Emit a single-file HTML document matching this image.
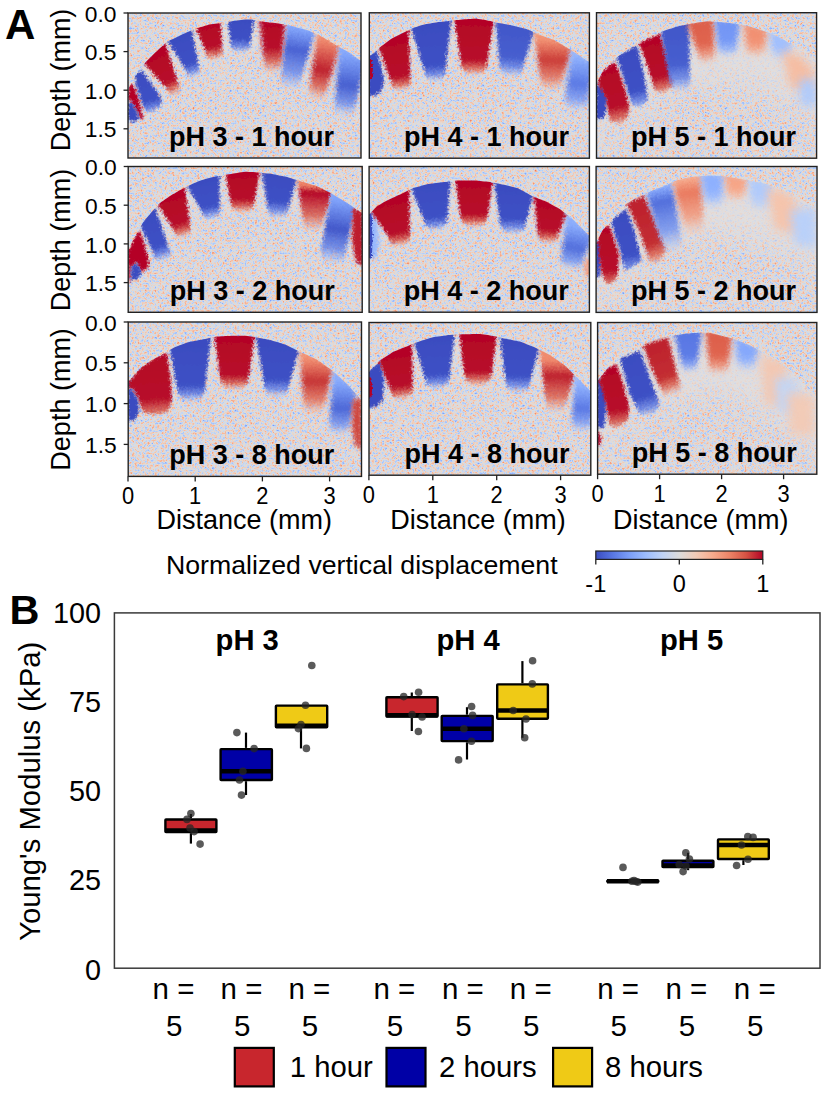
<!DOCTYPE html>
<html><head><meta charset="utf-8"><style>
html,body{margin:0;padding:0;background:#fff;}
body{width:826px;height:1094px;overflow:hidden;font-family:"Liberation Sans",sans-serif;}
svg{display:block;}
</style></head><body>
<svg width="826" height="1094" viewBox="0 0 826 1094">
<defs><clipPath id="arch00"><polygon points="103.0,136.9 105.0,133.1 107.0,129.3 109.0,125.6 111.0,121.8 113.0,118.0 115.0,114.2 117.0,110.4 119.0,106.6 121.0,102.9 123.0,99.1 125.0,95.3 127.0,91.5 129.0,87.7 131.0,84.0 133.0,80.2 135.0,76.4 137.0,73.2 139.0,70.6 141.0,67.9 143.0,65.2 145.0,62.9 147.0,60.8 149.0,58.8 151.0,56.8 153.0,54.7 155.0,52.8 157.0,50.9 159.0,49.1 161.0,47.3 163.0,45.5 165.0,43.6 167.0,41.8 169.0,40.8 171.0,39.8 173.0,38.9 175.0,37.9 177.0,36.9 179.0,36.0 181.0,35.0 183.0,34.0 185.0,33.2 187.0,32.3 189.0,31.4 191.0,30.6 193.0,29.7 195.0,28.8 197.0,28.2 199.0,27.6 201.0,27.0 203.0,26.4 205.0,25.8 207.0,25.2 209.0,24.6 211.0,24.3 213.0,24.0 215.0,23.7 217.0,23.4 219.0,23.2 221.0,22.9 223.0,22.6 225.0,22.3 227.0,22.0 229.0,21.7 231.0,21.4 233.0,21.1 235.0,20.8 237.0,20.5 239.0,20.3 241.0,20.0 243.0,19.7 245.0,19.4 247.0,19.4 249.0,19.4 251.0,19.5 253.0,19.8 255.0,20.2 257.0,20.5 259.0,20.9 261.0,21.2 263.0,21.6 265.0,21.9 267.0,22.1 269.0,22.4 271.0,22.6 273.0,22.8 275.0,23.1 277.0,23.3 279.0,23.6 281.0,23.9 283.0,24.3 285.0,24.7 287.0,25.1 289.0,25.5 291.0,25.9 293.0,26.3 295.0,26.8 297.0,27.4 299.0,27.9 301.0,28.5 303.0,29.0 305.0,29.6 307.0,30.1 309.0,30.8 311.0,31.7 313.0,32.6 315.0,33.5 317.0,34.4 319.0,35.3 321.0,36.2 323.0,37.3 325.0,38.5 327.0,39.7 329.0,40.9 331.0,42.1 333.0,43.3 335.0,44.5 337.0,45.7 339.0,46.8 341.0,47.9 343.0,49.0 345.0,50.2 347.0,51.3 349.0,52.4 351.0,53.8 353.0,55.3 355.0,56.7 357.0,58.1 359.0,59.6 361.0,61.0 363.0,62.4 365.0,63.9 367.0,65.3 369.0,66.7 371.0,68.2 373.0,69.6 375.0,71.0 377.0,72.5 379.0,73.9 381.0,75.3 383.0,76.8 385.0,78.2 386.0,168.0 103.0,168.0"/></clipPath>
<filter id="pale00" filterUnits="userSpaceOnUse" x="98" y="-17" width="293" height="205"><feGaussianBlur stdDeviation="8"/></filter>
<filter id="bl00_0p8" filterUnits="userSpaceOnUse" x="108" y="-7" width="273" height="185"><feGaussianBlur stdDeviation="0.8"/></filter>
<filter id="bl00_1p0" filterUnits="userSpaceOnUse" x="108" y="-7" width="273" height="185"><feGaussianBlur stdDeviation="1.0"/></filter>
<linearGradient id="g00_2" gradientUnits="userSpaceOnUse" x1="140.0" y1="72.0" x2="152.0" y2="116.0"><stop offset="0.00" stop-color="#3b4cc0" stop-opacity="1.0"/><stop offset="0.67" stop-color="#3e51c5" stop-opacity="1.0"/><stop offset="0.83" stop-color="#5977e3" stop-opacity="0.8"/><stop offset="1.00" stop-color="#8db0fe" stop-opacity="0.0"/></linearGradient>
<linearGradient id="g00_3" gradientUnits="userSpaceOnUse" x1="153.8" y1="54.0" x2="174.5" y2="96.6"><stop offset="0.00" stop-color="#b40426" stop-opacity="1.0"/><stop offset="0.67" stop-color="#b8122a" stop-opacity="1.0"/><stop offset="0.83" stop-color="#d65244" stop-opacity="0.8"/><stop offset="1.00" stop-color="#f4987a" stop-opacity="0.0"/></linearGradient>
<linearGradient id="g00_4" gradientUnits="userSpaceOnUse" x1="179.0" y1="36.0" x2="193.5" y2="78.6"><stop offset="0.00" stop-color="#3b4cc0" stop-opacity="1.0"/><stop offset="0.67" stop-color="#3e51c5" stop-opacity="1.0"/><stop offset="0.83" stop-color="#5977e3" stop-opacity="0.8"/><stop offset="1.00" stop-color="#8db0fe" stop-opacity="0.0"/></linearGradient>
<linearGradient id="g00_5" gradientUnits="userSpaceOnUse" x1="207.8" y1="25.0" x2="214.2" y2="60.8"><stop offset="0.00" stop-color="#b40426" stop-opacity="1.0"/><stop offset="0.62" stop-color="#b8122a" stop-opacity="1.0"/><stop offset="0.81" stop-color="#d65244" stop-opacity="0.8"/><stop offset="1.00" stop-color="#f4987a" stop-opacity="0.0"/></linearGradient>
<linearGradient id="g00_6" gradientUnits="userSpaceOnUse" x1="241.0" y1="20.0" x2="240.5" y2="53.6"><stop offset="0.00" stop-color="#3b4cc0" stop-opacity="1.0"/><stop offset="0.57" stop-color="#3e51c5" stop-opacity="1.0"/><stop offset="0.79" stop-color="#5977e3" stop-opacity="0.8"/><stop offset="1.00" stop-color="#8db0fe" stop-opacity="0.0"/></linearGradient>
<filter id="bl00_1p2" filterUnits="userSpaceOnUse" x="108" y="-7" width="273" height="185"><feGaussianBlur stdDeviation="1.2"/></filter>
<linearGradient id="g00_7" gradientUnits="userSpaceOnUse" x1="272.5" y1="22.8" x2="273.0" y2="73.4"><stop offset="0.00" stop-color="#b40426" stop-opacity="1.0"/><stop offset="0.52" stop-color="#b8122a" stop-opacity="1.0"/><stop offset="0.76" stop-color="#d65244" stop-opacity="0.8"/><stop offset="1.00" stop-color="#f4987a" stop-opacity="0.0"/></linearGradient>
<filter id="bl00_2p2" filterUnits="userSpaceOnUse" x="108" y="-7" width="273" height="185"><feGaussianBlur stdDeviation="2.2"/></filter>
<linearGradient id="g00_8" gradientUnits="userSpaceOnUse" x1="301.5" y1="28.6" x2="290.5" y2="90.6"><stop offset="0.00" stop-color="#85a8fc" stop-opacity="1.0"/><stop offset="0.35" stop-color="#4961d2" stop-opacity="1.0"/><stop offset="0.71" stop-color="#6687ed" stop-opacity="0.8"/><stop offset="1.00" stop-color="#96b7ff" stop-opacity="0.0"/></linearGradient>
<filter id="bl00_1p8" filterUnits="userSpaceOnUse" x="108" y="-7" width="273" height="185"><feGaussianBlur stdDeviation="1.8"/></filter>
<linearGradient id="g00_9" gradientUnits="userSpaceOnUse" x1="329.0" y1="40.9" x2="317.5" y2="100.4"><stop offset="0.00" stop-color="#f08b6e" stop-opacity="1.0"/><stop offset="0.50" stop-color="#bd1f2d" stop-opacity="1.0"/><stop offset="0.78" stop-color="#dc5d4a" stop-opacity="0.8"/><stop offset="1.00" stop-color="#f59f80" stop-opacity="0.0"/></linearGradient>
<linearGradient id="g00_10" gradientUnits="userSpaceOnUse" x1="352.5" y1="54.9" x2="345.0" y2="116.6"><stop offset="0.00" stop-color="#84a7fc" stop-opacity="1.0"/><stop offset="0.50" stop-color="#465ecf" stop-opacity="1.0"/><stop offset="0.78" stop-color="#6384eb" stop-opacity="0.8"/><stop offset="1.00" stop-color="#94b6ff" stop-opacity="0.0"/></linearGradient>
<filter id="rough00" filterUnits="userSpaceOnUse" x="108" y="-7" width="273" height="185"><feTurbulence type="fractalNoise" baseFrequency="0.45" numOctaves="2" seed="11" result="n"/><feDisplacementMap in="SourceGraphic" in2="n" scale="6" xChannelSelector="R" yChannelSelector="G"/></filter>
<clipPath id="arch01"><polygon points="344.3,74.4 346.3,72.9 348.3,71.5 350.3,70.0 352.3,68.5 354.3,67.1 356.3,65.6 358.3,64.1 360.3,62.7 362.3,61.2 364.3,59.7 366.3,58.3 368.3,56.8 370.3,55.4 372.3,53.9 374.3,52.4 376.3,50.8 378.3,48.8 380.3,46.9 382.3,45.4 384.3,43.9 386.3,42.4 388.3,40.9 390.3,39.4 392.3,38.3 394.3,37.3 396.3,36.3 398.3,35.3 400.3,34.3 402.3,33.3 404.3,32.3 406.3,31.3 408.3,30.2 410.3,29.2 412.3,28.2 414.3,27.5 416.3,26.9 418.3,26.2 420.3,25.6 422.3,25.0 424.3,24.4 426.3,24.1 428.3,23.8 430.3,23.4 432.3,23.1 434.3,22.7 436.3,22.4 438.3,22.1 440.3,21.9 442.3,21.7 444.3,21.4 446.3,21.2 448.3,21.1 450.3,20.8 452.3,20.6 454.3,20.4 456.3,20.1 458.3,19.9 460.3,19.7 462.3,19.4 464.3,19.3 466.3,19.2 468.3,19.1 470.3,19.0 472.3,18.8 474.3,18.7 476.3,18.6 478.3,18.9 480.3,19.2 482.3,19.5 484.3,19.8 486.3,20.2 488.3,20.7 490.3,21.1 492.3,21.5 494.3,22.0 496.3,22.4 498.3,22.9 500.3,23.2 502.3,23.6 504.3,23.9 506.3,24.3 508.3,24.7 510.3,25.0 512.3,25.4 514.3,25.9 516.3,26.4 518.3,26.9 520.3,27.4 522.3,27.9 524.3,28.4 526.3,28.9 528.3,29.8 530.3,30.6 532.3,31.5 534.3,32.4 536.3,33.3 538.3,34.2 540.3,35.0 542.3,35.7 544.3,36.5 546.3,37.2 548.3,37.9 550.3,38.6 552.3,39.4 554.3,40.1 556.3,41.2 558.3,42.4 560.3,43.6 562.3,44.8 564.3,46.0 566.3,47.2 568.3,48.4 570.3,49.6 572.3,50.9 574.3,52.2 576.3,53.5 578.3,54.8 580.3,56.1 582.3,57.4 584.3,58.8 586.3,60.2 588.3,61.5 590.3,62.9 592.3,64.3 594.3,65.6 596.3,67.0 598.3,68.3 600.3,69.7 602.3,71.1 604.3,72.4 606.3,73.8 608.3,75.2 610.3,76.5 612.3,77.9 614.3,79.3 614.4,168.2 344.3,168.2"/></clipPath>
<filter id="pale01" filterUnits="userSpaceOnUse" x="339" y="-17" width="280" height="205"><feGaussianBlur stdDeviation="8"/></filter>
<filter id="bl01_1p0" filterUnits="userSpaceOnUse" x="349" y="-7" width="260" height="185"><feGaussianBlur stdDeviation="1.0"/></filter>
<filter id="bl01_0p7" filterUnits="userSpaceOnUse" x="349" y="-7" width="260" height="185"><feGaussianBlur stdDeviation="0.7"/></filter>
<linearGradient id="g01_2" gradientUnits="userSpaceOnUse" x1="393.2" y1="37.8" x2="401.0" y2="91.8"><stop offset="0.00" stop-color="#b40426" stop-opacity="1.0"/><stop offset="0.72" stop-color="#b8122a" stop-opacity="1.0"/><stop offset="0.86" stop-color="#d65244" stop-opacity="0.8"/><stop offset="1.00" stop-color="#f4987a" stop-opacity="0.0"/></linearGradient>
<linearGradient id="g01_3" gradientUnits="userSpaceOnUse" x1="431.0" y1="23.3" x2="435.0" y2="82.3"><stop offset="0.00" stop-color="#3b4cc0" stop-opacity="1.0"/><stop offset="0.72" stop-color="#3e51c5" stop-opacity="1.0"/><stop offset="0.86" stop-color="#5977e3" stop-opacity="0.8"/><stop offset="1.00" stop-color="#8db0fe" stop-opacity="0.0"/></linearGradient>
<linearGradient id="g01_4" gradientUnits="userSpaceOnUse" x1="474.0" y1="18.7" x2="474.0" y2="76.2"><stop offset="0.00" stop-color="#b40426" stop-opacity="1.0"/><stop offset="0.72" stop-color="#b8122a" stop-opacity="1.0"/><stop offset="0.86" stop-color="#d65244" stop-opacity="0.8"/><stop offset="1.00" stop-color="#f4987a" stop-opacity="0.0"/></linearGradient>
<linearGradient id="g01_5" gradientUnits="userSpaceOnUse" x1="515.0" y1="26.0" x2="511.5" y2="77.5"><stop offset="0.00" stop-color="#4257c9" stop-opacity="1.0"/><stop offset="0.62" stop-color="#465ecf" stop-opacity="1.0"/><stop offset="0.81" stop-color="#5f7fe8" stop-opacity="0.8"/><stop offset="1.00" stop-color="#92b4fe" stop-opacity="0.0"/></linearGradient>
<filter id="bl01_1p6" filterUnits="userSpaceOnUse" x="349" y="-7" width="260" height="185"><feGaussianBlur stdDeviation="1.6"/></filter>
<linearGradient id="g01_6" gradientUnits="userSpaceOnUse" x1="553.0" y1="39.6" x2="551.0" y2="91.6"><stop offset="0.00" stop-color="#f39475" stop-opacity="1.0"/><stop offset="0.40" stop-color="#ca3b37" stop-opacity="1.0"/><stop offset="0.73" stop-color="#e36b54" stop-opacity="0.8"/><stop offset="1.00" stop-color="#f6a586" stop-opacity="0.0"/></linearGradient>
<filter id="bl01_2p2" filterUnits="userSpaceOnUse" x="349" y="-7" width="260" height="185"><feGaussianBlur stdDeviation="2.2"/></filter>
<linearGradient id="g01_7" gradientUnits="userSpaceOnUse" x1="582.5" y1="57.6" x2="576.5" y2="111.8"><stop offset="0.00" stop-color="#90b2fe" stop-opacity="1.0"/><stop offset="0.50" stop-color="#5977e3" stop-opacity="1.0"/><stop offset="0.78" stop-color="#7597f6" stop-opacity="0.8"/><stop offset="1.00" stop-color="#9ebeff" stop-opacity="0.0"/></linearGradient>
<filter id="bl01_2p4" filterUnits="userSpaceOnUse" x="349" y="-7" width="260" height="185"><feGaussianBlur stdDeviation="2.4"/></filter>
<filter id="rough01" filterUnits="userSpaceOnUse" x="349" y="-7" width="260" height="185"><feTurbulence type="fractalNoise" baseFrequency="0.45" numOctaves="2" seed="12" result="n"/><feDisplacementMap in="SourceGraphic" in2="n" scale="6" xChannelSelector="R" yChannelSelector="G"/></filter>
<clipPath id="arch02"><polygon points="571.5,134.3 573.5,130.3 575.5,126.2 577.5,122.2 579.5,118.1 581.5,114.1 583.5,110.1 585.5,106.0 587.5,102.0 589.5,98.0 591.5,93.9 593.5,89.9 595.5,85.9 597.5,81.8 599.5,77.8 601.5,73.7 603.5,69.7 605.5,67.2 607.5,65.4 609.5,63.6 611.5,61.9 613.5,60.1 615.5,58.4 617.5,56.7 619.5,55.3 621.5,53.9 623.5,52.5 625.5,51.0 627.5,49.6 629.5,48.2 631.5,46.9 633.5,45.5 635.5,44.1 637.5,42.7 639.5,41.7 641.5,40.7 643.5,39.7 645.5,38.8 647.5,37.8 649.5,36.8 651.5,35.8 653.5,35.0 655.5,34.2 657.5,33.4 659.5,32.6 661.5,31.8 663.5,31.0 665.5,30.2 667.5,29.6 669.5,29.0 671.5,28.4 673.5,27.8 675.5,27.1 677.5,26.5 679.5,26.0 681.5,25.6 683.5,25.2 685.5,24.8 687.5,24.3 689.5,23.9 691.5,23.5 693.5,23.2 695.5,22.9 697.5,22.6 699.5,22.3 701.5,22.0 703.5,21.7 705.5,21.5 707.5,21.2 709.5,21.2 711.5,21.4 713.5,21.5 715.5,21.7 717.5,21.9 719.5,22.0 721.5,22.2 723.5,22.4 725.5,22.6 727.5,22.8 729.5,23.0 731.5,23.2 733.5,23.5 735.5,23.8 737.5,24.1 739.5,24.4 741.5,24.7 743.5,25.0 745.5,25.3 747.5,25.8 749.5,26.4 751.5,27.0 753.5,27.7 755.5,28.3 757.5,28.9 759.5,29.5 761.5,30.2 763.5,30.9 765.5,31.6 767.5,32.3 769.5,33.0 771.5,33.7 773.5,34.4 775.5,35.3 777.5,36.4 779.5,37.5 781.5,38.6 783.5,39.7 785.5,40.8 787.5,41.9 789.5,42.9 791.5,43.9 793.5,44.9 795.5,45.9 797.5,46.9 799.5,47.9 801.5,48.9 803.5,50.0 805.5,51.1 807.5,52.2 809.5,53.3 811.5,54.4 813.5,55.5 815.5,56.6 817.5,57.7 819.5,58.8 821.5,59.9 823.5,61.0 825.5,62.1 827.5,63.2 829.5,64.3 831.5,65.4 833.5,66.5 835.5,67.6 837.5,68.7 839.5,69.8 841.5,70.9 841.6,168.2 571.5,168.2"/></clipPath>
<filter id="pale02" filterUnits="userSpaceOnUse" x="566" y="-17" width="280" height="206"><feGaussianBlur stdDeviation="14"/></filter>
<filter id="bl02_1p0" filterUnits="userSpaceOnUse" x="576" y="-7" width="260" height="186"><feGaussianBlur stdDeviation="1.0"/></filter>
<linearGradient id="g02_1" gradientUnits="userSpaceOnUse" x1="608.0" y1="66.0" x2="622.0" y2="128.0"><stop offset="0.00" stop-color="#b40426" stop-opacity="1.0"/><stop offset="0.67" stop-color="#b8122a" stop-opacity="1.0"/><stop offset="0.83" stop-color="#d65244" stop-opacity="0.8"/><stop offset="1.00" stop-color="#f4987a" stop-opacity="0.0"/></linearGradient>
<linearGradient id="g02_2" gradientUnits="userSpaceOnUse" x1="626.0" y1="50.0" x2="640.0" y2="112.0"><stop offset="0.00" stop-color="#3b4cc0" stop-opacity="1.0"/><stop offset="0.67" stop-color="#3e51c5" stop-opacity="1.0"/><stop offset="0.83" stop-color="#5977e3" stop-opacity="0.8"/><stop offset="1.00" stop-color="#8db0fe" stop-opacity="0.0"/></linearGradient>
<linearGradient id="g02_3" gradientUnits="userSpaceOnUse" x1="649.0" y1="38.0" x2="662.0" y2="98.0"><stop offset="0.00" stop-color="#b40426" stop-opacity="1.0"/><stop offset="0.67" stop-color="#b8122a" stop-opacity="1.0"/><stop offset="0.83" stop-color="#d65244" stop-opacity="0.8"/><stop offset="1.00" stop-color="#f4987a" stop-opacity="0.0"/></linearGradient>
<filter id="bl02_1p1" filterUnits="userSpaceOnUse" x="576" y="-7" width="260" height="186"><feGaussianBlur stdDeviation="1.1"/></filter>
<linearGradient id="g02_4" gradientUnits="userSpaceOnUse" x1="674.5" y1="27.5" x2="680.0" y2="93.0"><stop offset="0.00" stop-color="#4257c9" stop-opacity="1.0"/><stop offset="0.57" stop-color="#465ecf" stop-opacity="1.0"/><stop offset="0.79" stop-color="#5f7fe8" stop-opacity="0.8"/><stop offset="1.00" stop-color="#92b4fe" stop-opacity="0.0"/></linearGradient>
<filter id="bl02_1p5" filterUnits="userSpaceOnUse" x="576" y="-7" width="260" height="186"><feGaussianBlur stdDeviation="1.5"/></filter>
<linearGradient id="g02_5" gradientUnits="userSpaceOnUse" x1="700.0" y1="22.2" x2="707.0" y2="64.5"><stop offset="0.00" stop-color="#dd5f4b" stop-opacity="1.0"/><stop offset="0.52" stop-color="#e0654f" stop-opacity="1.0"/><stop offset="0.76" stop-color="#ee8468" stop-opacity="0.8"/><stop offset="1.00" stop-color="#f7b093" stop-opacity="0.0"/></linearGradient>
<filter id="bl02_2p6" filterUnits="userSpaceOnUse" x="576" y="-7" width="260" height="186"><feGaussianBlur stdDeviation="2.6"/></filter>
<linearGradient id="g02_6" gradientUnits="userSpaceOnUse" x1="727.0" y1="22.8" x2="727.5" y2="57.7"><stop offset="0.00" stop-color="#7295f4" stop-opacity="1.0"/><stop offset="0.52" stop-color="#7699f6" stop-opacity="1.0"/><stop offset="0.76" stop-color="#89acfd" stop-opacity="0.8"/><stop offset="1.00" stop-color="#abc8fd" stop-opacity="0.0"/></linearGradient>
<filter id="bl02_2p8" filterUnits="userSpaceOnUse" x="576" y="-7" width="260" height="186"><feGaussianBlur stdDeviation="2.8"/></filter>
<linearGradient id="g02_7" gradientUnits="userSpaceOnUse" x1="755.5" y1="28.3" x2="755.5" y2="57.1"><stop offset="0.00" stop-color="#f18f71" stop-opacity="1.0"/><stop offset="0.52" stop-color="#f29274" stop-opacity="1.0"/><stop offset="0.76" stop-color="#f6a586" stop-opacity="0.8"/><stop offset="1.00" stop-color="#f5c0a7" stop-opacity="0.0"/></linearGradient>
<filter id="bl02_3p0" filterUnits="userSpaceOnUse" x="576" y="-7" width="260" height="186"><feGaussianBlur stdDeviation="3.0"/></filter>
<linearGradient id="g02_8" gradientUnits="userSpaceOnUse" x1="781.0" y1="38.3" x2="781.0" y2="60.4"><stop offset="0.00" stop-color="#9ebeff" stop-opacity="1.0"/><stop offset="0.47" stop-color="#a1c0ff" stop-opacity="1.0"/><stop offset="0.73" stop-color="#adc9fd" stop-opacity="0.8"/><stop offset="1.00" stop-color="#c0d4f5" stop-opacity="0.0"/></linearGradient>
<filter id="bl02_3p2" filterUnits="userSpaceOnUse" x="576" y="-7" width="260" height="186"><feGaussianBlur stdDeviation="3.2"/></filter>
<filter id="bl02_5p0" filterUnits="userSpaceOnUse" x="576" y="-7" width="260" height="186"><feGaussianBlur stdDeviation="5.0"/></filter>
<filter id="rough02" filterUnits="userSpaceOnUse" x="576" y="-7" width="260" height="186"><feTurbulence type="fractalNoise" baseFrequency="0.45" numOctaves="2" seed="13" result="n"/><feDisplacementMap in="SourceGraphic" in2="n" scale="6" xChannelSelector="R" yChannelSelector="G"/></filter>
<clipPath id="arch10"><polygon points="103.2,308.5 105.2,303.9 107.2,299.3 109.2,294.7 111.2,290.1 113.2,285.5 115.2,280.9 117.2,276.4 119.2,271.8 121.2,267.2 123.2,262.6 125.2,258.0 127.2,253.4 129.2,248.8 131.2,244.2 133.2,239.6 135.2,235.9 137.2,232.5 139.2,229.1 141.2,225.7 143.2,222.3 145.2,219.6 147.2,217.3 149.2,214.9 151.2,212.6 153.2,210.3 155.2,208.2 157.2,206.0 159.2,203.8 161.2,202.1 163.2,200.7 165.2,199.3 167.2,198.0 169.2,196.6 171.2,195.2 173.2,194.0 175.2,192.9 177.2,191.8 179.2,190.6 181.2,189.5 183.2,188.4 185.2,187.4 187.2,186.4 189.2,185.4 191.2,184.5 193.2,183.6 195.2,182.7 197.2,181.8 199.2,181.0 201.2,180.2 203.2,179.7 205.2,179.1 207.2,178.6 209.2,178.0 211.2,177.5 213.2,176.9 215.2,176.5 217.2,176.2 219.2,175.9 221.2,175.5 223.2,175.2 225.2,174.9 227.2,174.5 229.2,174.2 231.2,173.9 233.2,173.6 235.2,173.3 237.2,172.9 239.2,172.6 241.2,172.3 243.2,172.0 245.2,171.7 247.2,171.8 249.2,171.9 251.2,172.0 253.2,172.1 255.2,172.2 257.2,172.4 259.2,172.6 261.2,172.8 263.2,173.0 265.2,173.2 267.2,173.4 269.2,173.6 271.2,173.8 273.2,174.2 275.2,174.6 277.2,175.0 279.2,175.4 281.2,175.8 283.2,176.2 285.2,176.6 287.2,177.1 289.2,177.7 291.2,178.3 293.2,178.9 295.2,179.5 297.2,180.2 299.2,180.8 301.2,181.4 303.2,182.0 305.2,182.6 307.2,183.2 309.2,183.8 311.2,184.4 313.2,185.0 315.2,185.6 317.2,186.3 319.2,187.3 321.2,188.3 323.2,189.3 325.2,190.3 327.2,191.3 329.2,192.3 331.2,193.3 333.2,194.5 335.2,195.7 337.2,196.9 339.2,198.1 341.2,199.3 343.2,200.5 345.2,201.7 347.2,203.0 349.2,204.3 351.2,205.6 353.2,207.0 355.2,208.3 357.2,209.6 359.2,210.9 361.2,212.3 363.2,213.6 365.2,214.9 367.2,216.3 369.2,217.6 371.2,218.9 373.2,220.2 375.2,221.6 377.2,222.9 379.2,224.2 381.2,225.5 383.2,226.9 385.2,228.2 387.2,229.5 387.2,322.3 103.2,322.3"/></clipPath>
<filter id="pale10" filterUnits="userSpaceOnUse" x="98" y="136" width="294" height="206"><feGaussianBlur stdDeviation="8"/></filter>
<filter id="bl10_0p8" filterUnits="userSpaceOnUse" x="108" y="146" width="274" height="186"><feGaussianBlur stdDeviation="0.8"/></filter>
<filter id="bl10_0p9" filterUnits="userSpaceOnUse" x="108" y="146" width="274" height="186"><feGaussianBlur stdDeviation="0.9"/></filter>
<linearGradient id="g10_2" gradientUnits="userSpaceOnUse" x1="147.2" y1="217.2" x2="162.0" y2="261.8"><stop offset="0.00" stop-color="#3b4cc0" stop-opacity="1.0"/><stop offset="0.67" stop-color="#3e51c5" stop-opacity="1.0"/><stop offset="0.83" stop-color="#5977e3" stop-opacity="0.8"/><stop offset="1.00" stop-color="#8db0fe" stop-opacity="0.0"/></linearGradient>
<filter id="bl10_1p0" filterUnits="userSpaceOnUse" x="108" y="146" width="274" height="186"><feGaussianBlur stdDeviation="1.0"/></filter>
<linearGradient id="g10_3" gradientUnits="userSpaceOnUse" x1="170.8" y1="195.5" x2="182.5" y2="238.6"><stop offset="0.00" stop-color="#b40426" stop-opacity="1.0"/><stop offset="0.67" stop-color="#b8122a" stop-opacity="1.0"/><stop offset="0.83" stop-color="#d65244" stop-opacity="0.8"/><stop offset="1.00" stop-color="#f4987a" stop-opacity="0.0"/></linearGradient>
<linearGradient id="g10_4" gradientUnits="userSpaceOnUse" x1="202.8" y1="179.8" x2="210.8" y2="220.3"><stop offset="0.00" stop-color="#3b4cc0" stop-opacity="1.0"/><stop offset="0.67" stop-color="#3e51c5" stop-opacity="1.0"/><stop offset="0.83" stop-color="#5977e3" stop-opacity="0.8"/><stop offset="1.00" stop-color="#8db0fe" stop-opacity="0.0"/></linearGradient>
<linearGradient id="g10_5" gradientUnits="userSpaceOnUse" x1="242.5" y1="172.1" x2="242.5" y2="213.4"><stop offset="0.00" stop-color="#b40426" stop-opacity="1.0"/><stop offset="0.67" stop-color="#b8122a" stop-opacity="1.0"/><stop offset="0.83" stop-color="#d65244" stop-opacity="0.8"/><stop offset="1.00" stop-color="#f4987a" stop-opacity="0.0"/></linearGradient>
<filter id="bl10_1p1" filterUnits="userSpaceOnUse" x="108" y="146" width="274" height="186"><feGaussianBlur stdDeviation="1.1"/></filter>
<linearGradient id="g10_6" gradientUnits="userSpaceOnUse" x1="279.5" y1="175.5" x2="278.0" y2="218.6"><stop offset="0.00" stop-color="#3b4cc0" stop-opacity="1.0"/><stop offset="0.62" stop-color="#3e51c5" stop-opacity="1.0"/><stop offset="0.81" stop-color="#5977e3" stop-opacity="0.8"/><stop offset="1.00" stop-color="#8db0fe" stop-opacity="0.0"/></linearGradient>
<filter id="bl10_1p4" filterUnits="userSpaceOnUse" x="108" y="146" width="274" height="186"><feGaussianBlur stdDeviation="1.4"/></filter>
<linearGradient id="g10_7" gradientUnits="userSpaceOnUse" x1="314.8" y1="185.4" x2="313.0" y2="233.1"><stop offset="0.00" stop-color="#ee8468" stop-opacity="1.0"/><stop offset="0.15" stop-color="#b40426" stop-opacity="1.0"/><stop offset="0.62" stop-color="#d65244" stop-opacity="0.8"/><stop offset="1.00" stop-color="#f4987a" stop-opacity="0.0"/></linearGradient>
<linearGradient id="g10_8" gradientUnits="userSpaceOnUse" x1="343.5" y1="200.7" x2="333.0" y2="264.9"><stop offset="0.00" stop-color="#81a4fb" stop-opacity="1.0"/><stop offset="0.45" stop-color="#4257c9" stop-opacity="1.0"/><stop offset="0.75" stop-color="#5f7fe8" stop-opacity="0.8"/><stop offset="1.00" stop-color="#92b4fe" stop-opacity="0.0"/></linearGradient>
<filter id="bl10_1p8" filterUnits="userSpaceOnUse" x="108" y="146" width="274" height="186"><feGaussianBlur stdDeviation="1.8"/></filter>
<filter id="bl10_1p6" filterUnits="userSpaceOnUse" x="108" y="146" width="274" height="186"><feGaussianBlur stdDeviation="1.6"/></filter>
<filter id="rough10" filterUnits="userSpaceOnUse" x="108" y="146" width="274" height="186"><feTurbulence type="fractalNoise" baseFrequency="0.45" numOctaves="2" seed="14" result="n"/><feDisplacementMap in="SourceGraphic" in2="n" scale="6" xChannelSelector="R" yChannelSelector="G"/></filter>
<clipPath id="arch11"><polygon points="344.1,239.7 346.1,237.7 348.1,235.6 350.1,233.6 352.1,231.6 354.1,229.5 356.1,227.5 358.1,225.4 360.1,223.4 362.1,221.4 364.1,219.3 366.1,217.3 368.1,215.3 370.1,213.2 372.1,211.2 374.1,209.2 376.1,207.1 378.1,205.5 380.1,204.4 382.1,203.2 384.1,202.1 386.1,201.0 388.1,199.9 390.1,199.0 392.1,198.1 394.1,197.2 396.1,196.2 398.1,195.3 400.1,194.4 402.1,193.4 404.1,192.5 406.1,191.6 408.1,190.6 410.1,189.6 412.1,188.6 414.1,187.8 416.1,187.2 418.1,186.7 420.1,186.2 422.1,185.6 424.1,185.1 426.1,184.6 428.1,184.0 430.1,183.7 432.1,183.5 434.1,183.3 436.1,183.0 438.1,182.8 440.1,182.6 442.1,182.3 444.1,182.1 446.1,181.9 448.1,181.6 450.1,181.4 452.1,181.1 454.1,180.9 456.1,180.6 458.1,180.4 460.1,180.4 462.1,180.4 464.1,180.5 466.1,180.5 468.1,180.5 470.1,180.5 472.1,180.6 474.1,180.6 476.1,180.6 478.1,180.8 480.1,181.0 482.1,181.2 484.1,181.4 486.1,181.6 488.1,181.8 490.1,182.0 492.1,182.4 494.1,182.8 496.1,183.2 498.1,183.6 500.1,184.0 502.1,184.4 504.1,184.8 506.1,185.3 508.1,185.8 510.1,186.3 512.1,186.8 514.1,187.3 516.1,187.8 518.1,188.3 520.1,189.4 522.1,190.5 524.1,191.6 526.1,192.7 528.1,193.8 530.1,194.9 532.1,195.9 534.1,196.8 536.1,197.6 538.1,198.4 540.1,199.2 542.1,200.0 544.1,200.8 546.1,201.6 548.1,202.6 550.1,203.7 552.1,204.8 554.1,205.9 556.1,207.0 558.1,208.1 560.1,209.2 562.1,210.8 564.1,212.4 566.1,214.0 568.1,215.6 570.1,217.2 572.1,218.8 574.1,220.4 576.1,222.4 578.1,224.4 580.1,226.4 582.1,228.4 584.1,230.4 586.1,232.4 588.1,234.4 590.1,236.4 592.1,238.4 594.1,240.4 596.1,242.4 598.1,244.4 600.1,246.4 602.1,248.4 604.1,250.4 606.1,252.4 608.1,254.4 610.1,256.4 612.1,258.4 614.1,260.4 614.4,322.2 344.1,322.2"/></clipPath>
<filter id="pale11" filterUnits="userSpaceOnUse" x="339" y="136" width="280" height="206"><feGaussianBlur stdDeviation="8"/></filter>
<filter id="bl11_2p0" filterUnits="userSpaceOnUse" x="349" y="146" width="260" height="186"><feGaussianBlur stdDeviation="2.0"/></filter>
<filter id="bl11_0p7" filterUnits="userSpaceOnUse" x="349" y="146" width="260" height="186"><feGaussianBlur stdDeviation="0.7"/></filter>
<linearGradient id="g11_2" gradientUnits="userSpaceOnUse" x1="389.6" y1="199.3" x2="399.2" y2="247.1"><stop offset="0.00" stop-color="#b40426" stop-opacity="1.0"/><stop offset="0.72" stop-color="#b8122a" stop-opacity="1.0"/><stop offset="0.86" stop-color="#d65244" stop-opacity="0.8"/><stop offset="1.00" stop-color="#f4987a" stop-opacity="0.0"/></linearGradient>
<filter id="bl11_1p0" filterUnits="userSpaceOnUse" x="349" y="146" width="260" height="186"><feGaussianBlur stdDeviation="1.0"/></filter>
<linearGradient id="g11_3" gradientUnits="userSpaceOnUse" x1="430.5" y1="183.7" x2="435.5" y2="231.1"><stop offset="0.00" stop-color="#3b4cc0" stop-opacity="1.0"/><stop offset="0.72" stop-color="#3e51c5" stop-opacity="1.0"/><stop offset="0.86" stop-color="#5977e3" stop-opacity="0.8"/><stop offset="1.00" stop-color="#8db0fe" stop-opacity="0.0"/></linearGradient>
<linearGradient id="g11_4" gradientUnits="userSpaceOnUse" x1="474.0" y1="180.6" x2="474.0" y2="228.1"><stop offset="0.00" stop-color="#b40426" stop-opacity="1.0"/><stop offset="0.72" stop-color="#b8122a" stop-opacity="1.0"/><stop offset="0.86" stop-color="#d65244" stop-opacity="0.8"/><stop offset="1.00" stop-color="#f4987a" stop-opacity="0.0"/></linearGradient>
<linearGradient id="g11_5" gradientUnits="userSpaceOnUse" x1="513.8" y1="187.2" x2="513.0" y2="235.1"><stop offset="0.00" stop-color="#3b4cc0" stop-opacity="1.0"/><stop offset="0.67" stop-color="#3e51c5" stop-opacity="1.0"/><stop offset="0.83" stop-color="#5977e3" stop-opacity="0.8"/><stop offset="1.00" stop-color="#8db0fe" stop-opacity="0.0"/></linearGradient>
<filter id="bl11_1p2" filterUnits="userSpaceOnUse" x="349" y="146" width="260" height="186"><feGaussianBlur stdDeviation="1.2"/></filter>
<linearGradient id="g11_6" gradientUnits="userSpaceOnUse" x1="550.5" y1="203.9" x2="548.0" y2="244.3"><stop offset="0.00" stop-color="#b40426" stop-opacity="1.0"/><stop offset="0.67" stop-color="#b8122a" stop-opacity="1.0"/><stop offset="0.83" stop-color="#d65244" stop-opacity="0.8"/><stop offset="1.00" stop-color="#f4987a" stop-opacity="0.0"/></linearGradient>
<filter id="bl11_1p6" filterUnits="userSpaceOnUse" x="349" y="146" width="260" height="186"><feGaussianBlur stdDeviation="1.6"/></filter>
<linearGradient id="g11_7" gradientUnits="userSpaceOnUse" x1="579.8" y1="226.1" x2="572.0" y2="270.8"><stop offset="0.00" stop-color="#8badfd" stop-opacity="1.0"/><stop offset="0.50" stop-color="#516ddb" stop-opacity="1.0"/><stop offset="0.78" stop-color="#6c8ff1" stop-opacity="0.8"/><stop offset="1.00" stop-color="#9abbff" stop-opacity="0.0"/></linearGradient>
<filter id="rough11" filterUnits="userSpaceOnUse" x="349" y="146" width="260" height="186"><feTurbulence type="fractalNoise" baseFrequency="0.45" numOctaves="2" seed="15" result="n"/><feDisplacementMap in="SourceGraphic" in2="n" scale="6" xChannelSelector="R" yChannelSelector="G"/></filter>
<clipPath id="arch12"><polygon points="571.1,294.5 573.1,290.4 575.1,286.3 577.1,282.2 579.1,278.2 581.1,274.1 583.1,270.0 585.1,265.9 587.1,261.8 589.1,257.7 591.1,253.6 593.1,249.5 595.1,245.4 597.1,241.3 599.1,237.2 601.1,233.1 603.1,229.4 605.1,227.4 607.1,225.5 609.1,223.3 611.1,220.9 613.1,218.5 615.1,216.1 617.1,213.9 619.1,211.6 621.1,209.4 623.1,207.1 625.1,204.9 627.1,203.0 629.1,201.9 631.1,200.8 633.1,199.6 635.1,198.5 637.1,197.4 639.1,196.3 641.1,195.4 643.1,194.5 645.1,193.6 647.1,192.8 649.1,191.9 651.1,191.0 653.1,190.2 655.1,189.5 657.1,188.7 659.1,188.0 661.1,187.3 663.1,186.5 665.1,185.6 667.1,184.7 669.1,183.8 671.1,182.8 673.1,181.9 675.1,181.0 677.1,180.2 679.1,179.8 681.1,179.2 683.1,178.8 685.1,178.2 687.1,177.8 689.1,177.2 691.1,176.9 693.1,176.7 695.1,176.5 697.1,176.4 699.1,176.2 701.1,176.1 703.1,175.9 705.1,175.7 707.1,175.6 709.1,175.6 711.1,175.6 713.1,175.7 715.1,175.8 717.1,175.9 719.1,176.0 721.1,176.1 723.1,176.2 725.1,176.3 727.1,176.7 729.1,177.0 731.1,177.3 733.1,177.7 735.1,178.0 737.1,178.4 739.1,178.7 741.1,179.0 743.1,179.4 745.1,179.7 747.1,180.1 749.1,180.5 751.1,180.9 753.1,181.3 755.1,181.7 757.1,182.1 759.1,182.5 761.1,182.9 763.1,183.3 765.1,183.7 767.1,184.1 769.1,184.9 771.1,185.7 773.1,186.4 775.1,187.2 777.1,188.0 779.1,188.8 781.1,189.6 783.1,190.4 785.1,191.2 787.1,192.0 789.1,192.9 791.1,194.0 793.1,195.1 795.1,196.1 797.1,197.2 799.1,198.3 801.1,199.3 803.1,200.4 805.1,201.5 807.1,202.5 809.1,203.6 811.1,204.8 813.1,206.0 815.1,207.3 817.1,208.5 819.1,209.7 821.1,210.9 823.1,212.2 825.1,213.4 827.1,214.6 829.1,215.9 831.1,217.1 833.1,218.3 835.1,219.5 837.1,220.8 839.1,222.0 841.1,223.2 842.0,322.4 571.1,322.4"/></clipPath>
<filter id="pale12" filterUnits="userSpaceOnUse" x="566" y="136" width="281" height="206"><feGaussianBlur stdDeviation="14"/></filter>
<filter id="bl12_1p0" filterUnits="userSpaceOnUse" x="576" y="146" width="261" height="186"><feGaussianBlur stdDeviation="1.0"/></filter>
<linearGradient id="g12_1" gradientUnits="userSpaceOnUse" x1="605.0" y1="224.0" x2="612.0" y2="294.0"><stop offset="0.00" stop-color="#b40426" stop-opacity="1.0"/><stop offset="0.67" stop-color="#b8122a" stop-opacity="1.0"/><stop offset="0.83" stop-color="#d65244" stop-opacity="0.8"/><stop offset="1.00" stop-color="#f4987a" stop-opacity="0.0"/></linearGradient>
<linearGradient id="g12_2" gradientUnits="userSpaceOnUse" x1="619.0" y1="212.0" x2="633.0" y2="278.0"><stop offset="0.00" stop-color="#3b4cc0" stop-opacity="1.0"/><stop offset="0.67" stop-color="#3e51c5" stop-opacity="1.0"/><stop offset="0.83" stop-color="#5977e3" stop-opacity="0.8"/><stop offset="1.00" stop-color="#8db0fe" stop-opacity="0.0"/></linearGradient>
<linearGradient id="g12_3" gradientUnits="userSpaceOnUse" x1="634.0" y1="200.0" x2="660.0" y2="266.0"><stop offset="0.00" stop-color="#bd1f2d" stop-opacity="1.0"/><stop offset="0.67" stop-color="#c32e31" stop-opacity="1.0"/><stop offset="0.83" stop-color="#dc5d4a" stop-opacity="0.8"/><stop offset="1.00" stop-color="#f59f80" stop-opacity="0.0"/></linearGradient>
<filter id="bl12_1p5" filterUnits="userSpaceOnUse" x="576" y="146" width="261" height="186"><feGaussianBlur stdDeviation="1.5"/></filter>
<linearGradient id="g12_4" gradientUnits="userSpaceOnUse" x1="658.5" y1="188.2" x2="672.0" y2="254.1"><stop offset="0.00" stop-color="#8badfd" stop-opacity="1.0"/><stop offset="0.20" stop-color="#516ddb" stop-opacity="1.0"/><stop offset="0.64" stop-color="#6c8ff1" stop-opacity="0.8"/><stop offset="1.00" stop-color="#9abbff" stop-opacity="0.0"/></linearGradient>
<filter id="bl12_2p0" filterUnits="userSpaceOnUse" x="576" y="146" width="261" height="186"><feGaussianBlur stdDeviation="2.0"/></filter>
<linearGradient id="g12_5" gradientUnits="userSpaceOnUse" x1="686.8" y1="177.8" x2="694.0" y2="236.3"><stop offset="0.00" stop-color="#f7af91" stop-opacity="1.0"/><stop offset="0.25" stop-color="#e9785d" stop-opacity="1.0"/><stop offset="0.66" stop-color="#f39577" stop-opacity="0.8"/><stop offset="1.00" stop-color="#f7b99e" stop-opacity="0.0"/></linearGradient>
<filter id="bl12_2p6" filterUnits="userSpaceOnUse" x="576" y="146" width="261" height="186"><feGaussianBlur stdDeviation="2.6"/></filter>
<linearGradient id="g12_6" gradientUnits="userSpaceOnUse" x1="712.0" y1="175.7" x2="713.5" y2="208.5"><stop offset="0.00" stop-color="#8db0fe" stop-opacity="1.0"/><stop offset="0.47" stop-color="#8fb1fe" stop-opacity="1.0"/><stop offset="0.73" stop-color="#9ebeff" stop-opacity="0.8"/><stop offset="1.00" stop-color="#b9d0f9" stop-opacity="0.0"/></linearGradient>
<filter id="bl12_3p0" filterUnits="userSpaceOnUse" x="576" y="146" width="261" height="186"><feGaussianBlur stdDeviation="3.0"/></filter>
<linearGradient id="g12_7" gradientUnits="userSpaceOnUse" x1="736.0" y1="178.2" x2="736.0" y2="201.5"><stop offset="0.00" stop-color="#f6a385" stop-opacity="1.0"/><stop offset="0.47" stop-color="#f7a688" stop-opacity="1.0"/><stop offset="0.73" stop-color="#f7b396" stop-opacity="0.8"/><stop offset="1.00" stop-color="#f3c8b2" stop-opacity="0.0"/></linearGradient>
<linearGradient id="g12_8" gradientUnits="userSpaceOnUse" x1="760.5" y1="182.8" x2="760.5" y2="212.1"><stop offset="0.00" stop-color="#afcafc" stop-opacity="1.0"/><stop offset="0.47" stop-color="#b1cbfc" stop-opacity="1.0"/><stop offset="0.73" stop-color="#bad0f8" stop-opacity="0.8"/><stop offset="1.00" stop-color="#c7d7f0" stop-opacity="0.0"/></linearGradient>
<filter id="bl12_3p5" filterUnits="userSpaceOnUse" x="576" y="146" width="261" height="186"><feGaussianBlur stdDeviation="3.5"/></filter>
<filter id="bl12_5p0" filterUnits="userSpaceOnUse" x="576" y="146" width="261" height="186"><feGaussianBlur stdDeviation="5.0"/></filter>
<filter id="rough12" filterUnits="userSpaceOnUse" x="576" y="146" width="261" height="186"><feTurbulence type="fractalNoise" baseFrequency="0.45" numOctaves="2" seed="16" result="n"/><feDisplacementMap in="SourceGraphic" in2="n" scale="6" xChannelSelector="R" yChannelSelector="G"/></filter>
<clipPath id="arch20"><polygon points="103.2,409.9 105.2,407.7 107.2,405.4 109.2,403.1 111.2,400.9 113.2,398.6 115.2,396.3 117.2,394.0 119.2,391.8 121.2,389.5 123.2,387.2 125.2,385.0 127.2,382.7 129.2,380.4 131.2,378.2 133.2,375.9 135.2,373.6 137.2,371.4 139.2,369.1 141.2,367.4 143.2,366.0 145.2,364.6 147.2,363.1 149.2,361.7 151.2,360.4 153.2,359.3 155.2,358.2 157.2,357.1 159.2,356.0 161.2,354.9 163.2,353.8 165.2,352.6 167.2,351.5 169.2,350.3 171.2,349.2 173.2,348.0 175.2,347.1 177.2,346.3 179.2,345.5 181.2,344.7 183.2,344.0 185.2,343.2 187.2,342.4 189.2,342.0 191.2,341.6 193.2,341.2 195.2,340.8 197.2,340.4 199.2,340.0 201.2,339.7 203.2,339.3 205.2,338.9 207.2,338.5 209.2,338.1 211.2,337.6 213.2,337.2 215.2,336.8 217.2,336.5 219.2,336.4 221.2,336.3 223.2,336.2 225.2,336.1 227.2,336.0 229.2,335.9 231.2,335.8 233.2,335.8 235.2,335.8 237.2,335.8 239.2,335.8 241.2,335.8 243.2,335.8 245.2,335.8 247.2,336.1 249.2,336.3 251.2,336.6 253.2,336.8 255.2,337.1 257.2,337.5 259.2,337.9 261.2,338.3 263.2,338.7 265.2,339.1 267.2,339.4 269.2,339.8 271.2,340.3 273.2,340.9 275.2,341.5 277.2,342.1 279.2,342.7 281.2,343.3 283.2,343.9 285.2,344.5 287.2,345.4 289.2,346.4 291.2,347.4 293.2,348.4 295.2,349.4 297.2,350.4 299.2,351.4 301.2,352.4 303.2,353.3 305.2,354.2 307.2,355.1 309.2,356.0 311.2,356.9 313.2,357.8 315.2,358.7 317.2,359.8 319.2,361.2 321.2,362.6 323.2,364.1 325.2,365.5 327.2,366.9 329.2,368.3 331.2,369.7 333.2,371.4 335.2,373.2 337.2,375.0 339.2,376.8 341.2,378.6 343.2,380.4 345.2,382.2 347.2,384.0 349.2,386.3 351.2,388.5 353.2,390.7 355.2,392.9 357.2,395.1 359.2,397.4 361.2,399.6 363.2,401.8 365.2,404.0 367.2,406.2 369.2,408.5 371.2,410.7 373.2,412.9 375.2,415.1 377.2,417.3 379.2,419.5 381.2,421.8 383.2,424.0 385.2,426.2 386.5,486.4 103.2,486.4"/></clipPath>
<filter id="pale20" filterUnits="userSpaceOnUse" x="98" y="292" width="293" height="214"><feGaussianBlur stdDeviation="8"/></filter>
<filter id="bl20_0p6" filterUnits="userSpaceOnUse" x="108" y="302" width="273" height="194"><feGaussianBlur stdDeviation="0.6"/></filter>
<linearGradient id="g20_1" gradientUnits="userSpaceOnUse" x1="150.0" y1="350.0" x2="157.0" y2="424.0"><stop offset="0.00" stop-color="#b40426" stop-opacity="1.0"/><stop offset="0.67" stop-color="#b8122a" stop-opacity="1.0"/><stop offset="0.83" stop-color="#d65244" stop-opacity="0.8"/><stop offset="1.00" stop-color="#f4987a" stop-opacity="0.0"/></linearGradient>
<filter id="bl20_1p0" filterUnits="userSpaceOnUse" x="108" y="302" width="273" height="194"><feGaussianBlur stdDeviation="1.0"/></filter>
<linearGradient id="g20_3" gradientUnits="userSpaceOnUse" x1="190.2" y1="341.8" x2="191.0" y2="402.5"><stop offset="0.00" stop-color="#3b4cc0" stop-opacity="1.0"/><stop offset="0.72" stop-color="#3e51c5" stop-opacity="1.0"/><stop offset="0.86" stop-color="#5977e3" stop-opacity="0.8"/><stop offset="1.00" stop-color="#8db0fe" stop-opacity="0.0"/></linearGradient>
<linearGradient id="g20_4" gradientUnits="userSpaceOnUse" x1="234.5" y1="335.8" x2="234.5" y2="390.9"><stop offset="0.00" stop-color="#b40426" stop-opacity="1.0"/><stop offset="0.72" stop-color="#b8122a" stop-opacity="1.0"/><stop offset="0.86" stop-color="#d65244" stop-opacity="0.8"/><stop offset="1.00" stop-color="#f4987a" stop-opacity="0.0"/></linearGradient>
<linearGradient id="g20_5" gradientUnits="userSpaceOnUse" x1="277.5" y1="342.2" x2="276.5" y2="398.0"><stop offset="0.00" stop-color="#3b4cc0" stop-opacity="1.0"/><stop offset="0.67" stop-color="#3e51c5" stop-opacity="1.0"/><stop offset="0.83" stop-color="#5977e3" stop-opacity="0.8"/><stop offset="1.00" stop-color="#8db0fe" stop-opacity="0.0"/></linearGradient>
<filter id="bl20_1p3" filterUnits="userSpaceOnUse" x="108" y="302" width="273" height="194"><feGaussianBlur stdDeviation="1.3"/></filter>
<linearGradient id="g20_6" gradientUnits="userSpaceOnUse" x1="316.2" y1="359.2" x2="314.0" y2="415.0"><stop offset="0.00" stop-color="#f29072" stop-opacity="1.0"/><stop offset="0.40" stop-color="#c53334" stop-opacity="1.0"/><stop offset="0.73" stop-color="#e16751" stop-opacity="0.8"/><stop offset="1.00" stop-color="#f6a385" stop-opacity="0.0"/></linearGradient>
<filter id="bl20_2p0" filterUnits="userSpaceOnUse" x="108" y="302" width="273" height="194"><feGaussianBlur stdDeviation="2.0"/></filter>
<linearGradient id="g20_7" gradientUnits="userSpaceOnUse" x1="344.8" y1="381.8" x2="339.5" y2="435.8"><stop offset="0.00" stop-color="#88abfd" stop-opacity="1.0"/><stop offset="0.50" stop-color="#4c66d6" stop-opacity="1.0"/><stop offset="0.78" stop-color="#688aef" stop-opacity="0.8"/><stop offset="1.00" stop-color="#97b8ff" stop-opacity="0.0"/></linearGradient>
<filter id="rough20" filterUnits="userSpaceOnUse" x="108" y="302" width="273" height="194"><feTurbulence type="fractalNoise" baseFrequency="0.45" numOctaves="2" seed="17" result="n"/><feDisplacementMap in="SourceGraphic" in2="n" scale="6" xChannelSelector="R" yChannelSelector="G"/></filter>
<clipPath id="arch21"><polygon points="344.0,396.2 346.0,394.2 348.0,392.2 350.0,390.2 352.0,388.2 354.0,386.2 356.0,384.2 358.0,382.2 360.0,380.2 362.0,378.2 364.0,376.2 366.0,374.2 368.0,372.2 370.0,370.2 372.0,368.2 374.0,366.2 376.0,364.2 378.0,362.2 380.0,360.4 382.0,359.1 384.0,357.8 386.0,356.5 388.0,355.2 390.0,353.9 392.0,352.6 394.0,351.6 396.0,350.8 398.0,350.0 400.0,349.1 402.0,348.3 404.0,347.5 406.0,346.7 408.0,345.9 410.0,345.0 412.0,344.2 414.0,343.4 416.0,342.5 418.0,341.9 420.0,341.2 422.0,340.6 424.0,339.9 426.0,339.3 428.0,338.7 430.0,338.0 432.0,337.4 434.0,337.0 436.0,336.7 438.0,336.5 440.0,336.2 442.0,335.9 444.0,335.7 446.0,335.4 448.0,335.1 450.0,334.9 452.0,334.8 454.0,334.7 456.0,334.6 458.0,334.5 460.0,334.4 462.0,334.3 464.0,334.3 466.0,334.2 468.0,334.2 470.0,334.2 472.0,334.1 474.0,334.1 476.0,334.1 478.0,334.0 480.0,334.0 482.0,334.3 484.0,334.6 486.0,334.8 488.0,335.1 490.0,335.4 492.0,335.8 494.0,336.2 496.0,336.6 498.0,337.1 500.0,337.5 502.0,337.9 504.0,338.4 506.0,338.8 508.0,339.2 510.0,339.6 512.0,340.0 514.0,340.4 516.0,340.8 518.0,341.2 520.0,341.6 522.0,342.3 524.0,343.1 526.0,343.9 528.0,344.7 530.0,345.5 532.0,346.3 534.0,347.1 536.0,348.0 538.0,349.0 540.0,350.0 542.0,351.0 544.0,352.0 546.0,353.0 548.0,354.0 550.0,355.0 552.0,356.4 554.0,357.8 556.0,359.2 558.0,360.6 560.0,362.0 562.0,363.4 564.0,364.8 566.0,366.6 568.0,368.6 570.0,370.6 572.0,372.5 574.0,374.5 576.0,376.5 578.0,378.5 580.0,380.5 582.0,382.5 584.0,384.6 586.0,386.6 588.0,388.6 590.0,390.6 592.0,392.6 594.0,394.6 596.0,396.7 598.0,398.7 600.0,400.7 602.0,402.7 604.0,404.7 606.0,406.7 608.0,408.8 610.0,410.8 612.0,412.8 614.0,414.8 615.8,485.2 344.0,485.2"/></clipPath>
<filter id="pale21" filterUnits="userSpaceOnUse" x="339" y="292" width="282" height="213"><feGaussianBlur stdDeviation="8"/></filter>
<filter id="bl21_1p0" filterUnits="userSpaceOnUse" x="349" y="302" width="262" height="193"><feGaussianBlur stdDeviation="1.0"/></filter>
<filter id="bl21_0p7" filterUnits="userSpaceOnUse" x="349" y="302" width="262" height="193"><feGaussianBlur stdDeviation="0.7"/></filter>
<linearGradient id="g21_2" gradientUnits="userSpaceOnUse" x1="395.0" y1="351.2" x2="401.5" y2="400.3"><stop offset="0.00" stop-color="#b40426" stop-opacity="1.0"/><stop offset="0.72" stop-color="#b8122a" stop-opacity="1.0"/><stop offset="0.86" stop-color="#d65244" stop-opacity="0.8"/><stop offset="1.00" stop-color="#f4987a" stop-opacity="0.0"/></linearGradient>
<linearGradient id="g21_3" gradientUnits="userSpaceOnUse" x1="434.2" y1="337.0" x2="437.0" y2="389.6"><stop offset="0.00" stop-color="#3b4cc0" stop-opacity="1.0"/><stop offset="0.72" stop-color="#3e51c5" stop-opacity="1.0"/><stop offset="0.86" stop-color="#5977e3" stop-opacity="0.8"/><stop offset="1.00" stop-color="#8db0fe" stop-opacity="0.0"/></linearGradient>
<linearGradient id="g21_4" gradientUnits="userSpaceOnUse" x1="478.0" y1="334.0" x2="478.0" y2="386.6"><stop offset="0.00" stop-color="#b40426" stop-opacity="1.0"/><stop offset="0.72" stop-color="#b8122a" stop-opacity="1.0"/><stop offset="0.86" stop-color="#d65244" stop-opacity="0.8"/><stop offset="1.00" stop-color="#f4987a" stop-opacity="0.0"/></linearGradient>
<linearGradient id="g21_5" gradientUnits="userSpaceOnUse" x1="519.5" y1="341.5" x2="518.0" y2="393.6"><stop offset="0.00" stop-color="#3b4cc0" stop-opacity="1.0"/><stop offset="0.67" stop-color="#3e51c5" stop-opacity="1.0"/><stop offset="0.83" stop-color="#5977e3" stop-opacity="0.8"/><stop offset="1.00" stop-color="#8db0fe" stop-opacity="0.0"/></linearGradient>
<filter id="bl21_1p3" filterUnits="userSpaceOnUse" x="349" y="302" width="262" height="193"><feGaussianBlur stdDeviation="1.3"/></filter>
<linearGradient id="g21_6" gradientUnits="userSpaceOnUse" x1="557.2" y1="360.1" x2="556.0" y2="413.7"><stop offset="0.00" stop-color="#f08b6e" stop-opacity="1.0"/><stop offset="0.30" stop-color="#bd1f2d" stop-opacity="1.0"/><stop offset="0.69" stop-color="#dc5d4a" stop-opacity="0.8"/><stop offset="1.00" stop-color="#f59f80" stop-opacity="0.0"/></linearGradient>
<filter id="bl21_1p8" filterUnits="userSpaceOnUse" x="349" y="302" width="262" height="193"><feGaussianBlur stdDeviation="1.8"/></filter>
<linearGradient id="g21_7" gradientUnits="userSpaceOnUse" x1="584.8" y1="385.3" x2="581.5" y2="433.1"><stop offset="0.00" stop-color="#90b2fe" stop-opacity="1.0"/><stop offset="0.50" stop-color="#5977e3" stop-opacity="1.0"/><stop offset="0.78" stop-color="#7597f6" stop-opacity="0.8"/><stop offset="1.00" stop-color="#9ebeff" stop-opacity="0.0"/></linearGradient>
<filter id="bl21_2p2" filterUnits="userSpaceOnUse" x="349" y="302" width="262" height="193"><feGaussianBlur stdDeviation="2.2"/></filter>
<filter id="rough21" filterUnits="userSpaceOnUse" x="349" y="302" width="262" height="193"><feTurbulence type="fractalNoise" baseFrequency="0.45" numOctaves="2" seed="18" result="n"/><feDisplacementMap in="SourceGraphic" in2="n" scale="6" xChannelSelector="R" yChannelSelector="G"/></filter>
<clipPath id="arch22"><polygon points="572.6,411.9 574.6,409.4 576.6,406.9 578.6,404.4 580.6,401.9 582.6,399.4 584.6,396.9 586.6,394.4 588.6,391.9 590.6,389.3 592.6,386.8 594.6,384.3 596.6,381.8 598.6,379.3 600.6,376.8 602.6,374.3 604.6,371.8 606.6,369.3 608.6,367.3 610.6,365.7 612.6,364.1 614.6,362.5 616.6,360.8 618.6,359.2 620.6,357.5 622.6,355.8 624.6,354.5 626.6,353.5 628.6,352.5 630.6,351.6 632.6,350.6 634.6,349.6 636.6,348.4 638.6,347.2 640.6,346.1 642.6,344.9 644.6,343.8 646.6,342.9 648.6,342.0 650.6,341.2 652.6,340.3 654.6,339.4 656.6,338.6 658.6,338.2 660.6,337.8 662.6,337.4 664.6,337.1 666.6,336.7 668.6,336.3 670.6,335.9 672.6,335.6 674.6,335.3 676.6,335.0 678.6,334.7 680.6,334.4 682.6,334.1 684.6,333.8 686.6,333.6 688.6,333.4 690.6,333.3 692.6,333.1 694.6,333.0 696.6,332.9 698.6,332.8 700.6,332.8 702.6,332.8 704.6,332.8 706.6,332.8 708.6,332.8 710.6,333.0 712.6,333.5 714.6,334.0 716.6,334.5 718.6,335.0 720.6,335.4 722.6,335.9 724.6,336.4 726.6,336.9 728.6,337.4 730.6,337.9 732.6,338.4 734.6,339.1 736.6,339.9 738.6,340.7 740.6,341.5 742.6,342.3 744.6,343.2 746.6,344.0 748.6,344.8 750.6,345.8 752.6,346.8 754.6,347.8 756.6,348.8 758.6,349.8 760.6,350.8 762.6,351.8 764.6,352.9 766.6,354.1 768.6,355.3 770.6,356.6 772.6,357.8 774.6,359.0 776.6,360.2 778.6,361.5 780.6,363.1 782.6,364.7 784.6,366.3 786.6,367.9 788.6,369.5 790.6,371.0 792.6,372.6 794.6,374.6 796.6,376.6 798.6,378.6 800.6,380.6 802.6,382.6 804.6,384.6 806.6,386.6 808.6,388.6 810.6,390.6 812.6,392.6 814.6,394.6 816.6,396.6 818.6,398.6 820.6,400.6 822.6,402.6 824.6,404.6 826.6,406.6 828.6,408.6 830.6,410.6 832.6,412.6 834.6,414.6 836.6,416.6 838.6,418.6 840.6,420.6 841.8,484.2 572.6,484.2"/></clipPath>
<filter id="pale22" filterUnits="userSpaceOnUse" x="568" y="292" width="279" height="212"><feGaussianBlur stdDeviation="14"/></filter>
<filter id="bl22_1p0" filterUnits="userSpaceOnUse" x="578" y="302" width="259" height="192"><feGaussianBlur stdDeviation="1.0"/></filter>
<filter id="bl22_0p8" filterUnits="userSpaceOnUse" x="578" y="302" width="259" height="192"><feGaussianBlur stdDeviation="0.8"/></filter>
<linearGradient id="g22_2" gradientUnits="userSpaceOnUse" x1="609.0" y1="366.0" x2="618.0" y2="434.0"><stop offset="0.00" stop-color="#b40426" stop-opacity="1.0"/><stop offset="0.67" stop-color="#b8122a" stop-opacity="1.0"/><stop offset="0.83" stop-color="#d65244" stop-opacity="0.8"/><stop offset="1.00" stop-color="#f4987a" stop-opacity="0.0"/></linearGradient>
<linearGradient id="g22_3" gradientUnits="userSpaceOnUse" x1="630.0" y1="352.0" x2="648.0" y2="420.0"><stop offset="0.00" stop-color="#3b4cc0" stop-opacity="1.0"/><stop offset="0.67" stop-color="#3e51c5" stop-opacity="1.0"/><stop offset="0.83" stop-color="#5977e3" stop-opacity="0.8"/><stop offset="1.00" stop-color="#8db0fe" stop-opacity="0.0"/></linearGradient>
<linearGradient id="g22_4" gradientUnits="userSpaceOnUse" x1="652.0" y1="340.0" x2="672.0" y2="396.0"><stop offset="0.00" stop-color="#bd1f2d" stop-opacity="1.0"/><stop offset="0.67" stop-color="#c32e31" stop-opacity="1.0"/><stop offset="0.83" stop-color="#dc5d4a" stop-opacity="0.8"/><stop offset="1.00" stop-color="#f59f80" stop-opacity="0.0"/></linearGradient>
<filter id="bl22_1p6" filterUnits="userSpaceOnUse" x="578" y="302" width="259" height="192"><feGaussianBlur stdDeviation="1.6"/></filter>
<linearGradient id="g22_5" gradientUnits="userSpaceOnUse" x1="688.0" y1="333.5" x2="689.5" y2="373.3"><stop offset="0.00" stop-color="#5977e3" stop-opacity="1.0"/><stop offset="0.57" stop-color="#5d7ce6" stop-opacity="1.0"/><stop offset="0.79" stop-color="#7597f6" stop-opacity="0.8"/><stop offset="1.00" stop-color="#9ebeff" stop-opacity="0.0"/></linearGradient>
<filter id="bl22_2p2" filterUnits="userSpaceOnUse" x="578" y="302" width="259" height="192"><feGaussianBlur stdDeviation="2.2"/></filter>
<linearGradient id="g22_6" gradientUnits="userSpaceOnUse" x1="718.8" y1="335.0" x2="718.5" y2="375.3"><stop offset="0.00" stop-color="#dd5f4b" stop-opacity="1.0"/><stop offset="0.52" stop-color="#e0654f" stop-opacity="1.0"/><stop offset="0.76" stop-color="#ee8468" stop-opacity="0.8"/><stop offset="1.00" stop-color="#f7b093" stop-opacity="0.0"/></linearGradient>
<filter id="bl22_2p5" filterUnits="userSpaceOnUse" x="578" y="302" width="259" height="192"><feGaussianBlur stdDeviation="2.5"/></filter>
<linearGradient id="g22_7" gradientUnits="userSpaceOnUse" x1="747.0" y1="344.1" x2="746.5" y2="370.9"><stop offset="0.00" stop-color="#84a7fc" stop-opacity="1.0"/><stop offset="0.47" stop-color="#86a9fc" stop-opacity="1.0"/><stop offset="0.73" stop-color="#97b8ff" stop-opacity="0.8"/><stop offset="1.00" stop-color="#b3cdfb" stop-opacity="0.0"/></linearGradient>
<filter id="bl22_3p0" filterUnits="userSpaceOnUse" x="578" y="302" width="259" height="192"><feGaussianBlur stdDeviation="3.0"/></filter>
<filter id="bl22_5p0" filterUnits="userSpaceOnUse" x="578" y="302" width="259" height="192"><feGaussianBlur stdDeviation="5.0"/></filter>
<filter id="rough22" filterUnits="userSpaceOnUse" x="578" y="302" width="259" height="192"><feTurbulence type="fractalNoise" baseFrequency="0.45" numOctaves="2" seed="19" result="n"/><feDisplacementMap in="SourceGraphic" in2="n" scale="6" xChannelSelector="R" yChannelSelector="G"/></filter>

<filter id="noise" x="0" y="0" width="100%" height="100%" filterUnits="objectBoundingBox" color-interpolation-filters="sRGB">
  <feTurbulence type="fractalNoise" baseFrequency="0.4" numOctaves="2" seed="7" result="t"/>
  <feColorMatrix in="t" type="matrix" values="1 0 0 0 0  1 0 0 0 0  1 0 0 0 0  0 0 0 0 1" result="g"/>
  <feComponentTransfer in="g" result="c">
    <feFuncR type="table" tableValues="0.363 0.415 0.468 0.522 0.576 0.630 0.683 0.734 0.782 0.827 0.867 0.903 0.933 0.955 0.967 0.969 0.963 0.948 0.924 0.892 0.852"/>
    <feFuncG type="table" tableValues="0.485 0.547 0.606 0.660 0.709 0.753 0.790 0.820 0.843 0.858 0.864 0.845 0.816 0.779 0.736 0.685 0.628 0.566 0.499 0.425 0.346"/>
    <feFuncB type="table" tableValues="0.901 0.939 0.969 0.988 0.998 0.999 0.990 0.971 0.943 0.907 0.863 0.812 0.753 0.693 0.631 0.569 0.508 0.447 0.389 0.333 0.280"/>
    <feFuncA type="table" tableValues="1 1"/>
  </feComponentTransfer>
  <feGaussianBlur stdDeviation="0.7"/>
</filter>

<clipPath id="clip00"><rect x="128.0" y="13.0" width="233.0" height="145.0"/></clipPath>
<clipPath id="clip01"><rect x="369.3" y="12.8" width="220.1" height="145.4"/></clipPath>
<clipPath id="clip02"><rect x="596.5" y="12.7" width="220.1" height="145.5"/></clipPath>
<clipPath id="clip10"><rect x="128.2" y="166.5" width="234.0" height="145.8"/></clipPath>
<clipPath id="clip11"><rect x="369.1" y="166.5" width="220.3" height="145.7"/></clipPath>
<clipPath id="clip12"><rect x="596.1" y="166.5" width="220.9" height="145.9"/></clipPath>
<clipPath id="clip20"><rect x="128.2" y="322.0" width="233.3" height="154.4"/></clipPath>
<clipPath id="clip21"><rect x="369.0" y="322.5" width="221.8" height="152.7"/></clipPath>
<clipPath id="clip22"><rect x="597.6" y="322.5" width="219.2" height="151.7"/></clipPath>
<linearGradient id="cw" x1="0" x2="1" y1="0" y2="0"><stop offset="0.00" stop-color="rgb(58, 76, 192)"/><stop offset="0.10" stop-color="rgb(88, 118, 226)"/><stop offset="0.20" stop-color="rgb(123, 158, 248)"/><stop offset="0.30" stop-color="rgb(157, 189, 254)"/><stop offset="0.40" stop-color="rgb(192, 211, 245)"/><stop offset="0.50" stop-color="rgb(221, 220, 219)"/><stop offset="0.60" stop-color="rgb(241, 202, 182)"/><stop offset="0.70" stop-color="rgb(246, 171, 141)"/><stop offset="0.80" stop-color="rgb(237, 132, 103)"/><stop offset="0.90" stop-color="rgb(214, 82, 67)"/><stop offset="1.00" stop-color="rgb(179, 3, 38)"/></linearGradient></defs>
<rect width="826" height="1094" fill="#fff"/>
<g clip-path="url(#clip00)"><rect x="128.0" y="13.0" width="233.0" height="145.0" fill="#ddd" filter="url(#noise)"/>
<g clip-path="url(#arch00)"><polygon points="103.0,132.9 105.0,129.1 107.0,125.3 109.0,121.6 111.0,117.8 113.0,114.0 115.0,110.2 117.0,106.4 119.0,102.6 121.0,98.9 123.0,95.1 125.0,91.3 127.0,87.5 129.0,83.7 131.0,80.0 133.0,76.2 135.0,72.4 137.0,69.2 139.0,66.6 141.0,63.9 143.0,61.2 145.0,58.9 147.0,56.8 149.0,54.8 151.0,52.8 153.0,50.7 155.0,48.8 157.0,46.9 159.0,45.1 161.0,43.3 163.0,41.5 165.0,39.6 167.0,37.8 169.0,36.8 171.0,35.8 173.0,34.9 175.0,33.9 177.0,32.9 179.0,32.0 181.0,31.0 183.0,30.0 185.0,29.2 187.0,28.3 189.0,27.4 191.0,26.6 193.0,25.7 195.0,24.8 197.0,24.2 199.0,23.6 201.0,23.0 203.0,22.4 205.0,21.8 207.0,21.2 209.0,20.6 211.0,20.3 213.0,20.0 215.0,19.7 217.0,19.4 219.0,19.2 221.0,18.9 223.0,18.6 225.0,18.3 227.0,18.0 229.0,17.7 231.0,17.4 233.0,17.1 235.0,16.8 237.0,16.5 239.0,16.3 241.0,16.0 243.0,15.7 245.0,15.4 247.0,15.4 249.0,15.4 251.0,15.5 253.0,15.8 255.0,16.2 257.0,16.5 259.0,16.9 261.0,17.2 263.0,17.6 265.0,17.9 267.0,18.1 269.0,18.4 271.0,18.6 273.0,18.8 275.0,19.1 277.0,19.3 279.0,19.6 281.0,19.9 283.0,20.3 285.0,20.7 287.0,21.1 289.0,21.5 291.0,21.9 293.0,22.3 295.0,22.8 297.0,23.4 299.0,23.9 301.0,24.5 303.0,25.0 305.0,25.6 307.0,26.1 309.0,26.8 311.0,27.7 313.0,28.6 315.0,29.5 317.0,30.4 319.0,31.3 321.0,32.2 323.0,33.3 325.0,34.5 327.0,35.7 329.0,36.9 331.0,38.1 333.0,39.3 335.0,40.5 337.0,41.7 339.0,42.8 341.0,43.9 343.0,45.0 345.0,46.2 347.0,47.3 349.0,48.4 351.0,49.8 353.0,51.3 355.0,52.7 357.0,54.1 359.0,55.6 361.0,57.0 363.0,58.4 365.0,59.9 367.0,61.3 369.0,62.7 371.0,64.2 373.0,65.6 375.0,67.0 377.0,68.5 379.0,69.9 381.0,71.3 383.0,72.8 385.0,74.2 385.0,108.2 383.0,106.8 381.0,105.3 379.0,103.9 377.0,102.5 375.0,101.0 373.0,99.6 371.0,98.2 369.0,96.7 367.0,95.3 365.0,93.9 363.0,92.4 361.0,91.0 359.0,89.6 357.0,88.1 355.0,86.7 353.0,85.3 351.0,83.8 349.0,82.4 347.0,81.3 345.0,80.2 343.0,79.0 341.0,77.9 339.0,76.8 337.0,75.7 335.0,74.5 333.0,73.3 331.0,72.1 329.0,70.9 327.0,69.7 325.0,68.5 323.0,67.3 321.0,66.2 319.0,65.3 317.0,64.4 315.0,63.5 313.0,62.6 311.0,61.7 309.0,60.8 307.0,60.1 305.0,59.6 303.0,59.0 301.0,58.5 299.0,57.9 297.0,57.4 295.0,56.8 293.0,56.3 291.0,55.9 289.0,55.5 287.0,55.1 285.0,54.7 283.0,54.3 281.0,53.9 279.0,53.6 277.0,53.3 275.0,53.1 273.0,52.8 271.0,52.6 269.0,52.4 267.0,52.1 265.0,51.9 263.0,51.6 261.0,51.2 259.0,50.9 257.0,50.5 255.0,50.2 253.0,49.8 251.0,49.5 249.0,49.4 247.0,49.4 245.0,49.4 243.0,49.7 241.0,50.0 239.0,50.3 237.0,50.5 235.0,50.8 233.0,51.1 231.0,51.4 229.0,51.7 227.0,52.0 225.0,52.3 223.0,52.6 221.0,52.9 219.0,53.2 217.0,53.4 215.0,53.7 213.0,54.0 211.0,54.3 209.0,54.6 207.0,55.2 205.0,55.8 203.0,56.4 201.0,57.0 199.0,57.6 197.0,58.2 195.0,58.8 193.0,59.7 191.0,60.6 189.0,61.4 187.0,62.3 185.0,63.2 183.0,64.0 181.0,65.0 179.0,66.0 177.0,66.9 175.0,67.9 173.0,68.9 171.0,69.8 169.0,70.8 167.0,71.8 165.0,73.6 163.0,75.5 161.0,77.3 159.0,79.1 157.0,80.9 155.0,82.8 153.0,84.7 151.0,86.8 149.0,88.8 147.0,90.8 145.0,92.9 143.0,95.2 141.0,97.9 139.0,100.6 137.0,103.2 135.0,106.4 133.0,110.2 131.0,114.0 129.0,117.7 127.0,121.5 125.0,125.3 123.0,129.1 121.0,132.9 119.0,136.6 117.0,140.4 115.0,144.2 113.0,148.0 111.0,151.8 109.0,155.6 107.0,159.3 105.0,163.1 103.0,166.9" fill="#e2dfdf" fill-opacity="0.4" filter="url(#pale00)"/><g filter="url(#rough00)"><polygon points="128.6,86.0 133.0,84.0 137.0,94.0 141.0,108.0 143.5,119.5 140.0,118.0 135.0,108.0 131.0,101.0 128.0,99.0" fill="#b40426" filter="url(#bl00_0p8)"/><polygon points="128.0,101.0 132.0,103.0 136.0,110.0 139.0,118.0 135.0,122.0 128.0,121.0" fill="#3b4cc0" filter="url(#bl00_1p0)"/><polygon points="134.5,75.5 141.5,69.5 150.0,82.0 160.0,96.0 162.0,104.0 154.0,112.0 146.0,112.0 141.0,100.0 137.0,88.0" fill="url(#g00_2)" filter="url(#bl00_1p0)"/><polygon points="143.0,62.2 145.0,59.9 146.9,57.9 148.9,55.9 150.8,53.9 152.8,52.0 154.7,50.0 156.7,48.2 158.6,46.4 160.6,44.7 162.5,42.9 164.5,41.1 180.5,90.6 180.2,92.4 179.4,94.1 178.0,95.4 176.4,96.3 174.5,96.6 172.6,96.3 171.0,95.4 169.6,94.1 168.8,92.4 168.5,90.6" fill="url(#g00_3)" filter="url(#bl00_1p0)"/><polygon points="166.5,39.2 168.4,38.1 170.3,37.1 172.3,36.2 174.2,35.3 176.1,34.4 178.0,33.4 180.0,32.5 181.9,31.6 183.8,30.7 185.7,29.9 187.7,29.0 189.6,28.2 191.5,27.3 199.9,72.2 199.6,74.2 198.7,75.9 197.2,77.3 195.5,78.3 193.5,78.6 191.5,78.3 189.8,77.3 188.3,75.9 187.4,74.2 187.1,72.2" fill="url(#g00_4)" filter="url(#bl00_1p0)"/><polygon points="195.0,25.8 197.0,25.2 198.9,24.6 200.9,24.0 202.8,23.4 204.8,22.8 206.8,22.3 208.7,21.7 210.7,21.3 212.7,21.0 214.6,20.8 216.6,20.5 218.5,20.2 220.5,19.9 222.3,52.8 221.9,55.3 220.8,57.5 219.0,59.3 216.7,60.5 214.2,60.8 211.8,60.5 209.5,59.3 207.7,57.5 206.6,55.3 206.2,52.8" fill="url(#g00_5)" filter="url(#bl00_1p0)"/><polygon points="227.5,18.9 229.4,18.6 231.4,18.3 233.3,18.1 235.2,17.8 237.1,17.5 239.1,17.2 241.0,17.0 242.9,16.7 244.9,16.4 246.8,16.4 248.7,16.4 250.6,16.4 252.6,16.7 254.5,17.1 250.2,43.9 249.8,46.9 248.4,49.6 246.2,51.7 243.5,53.1 240.5,53.6 237.5,53.1 234.8,51.7 232.6,49.6 231.2,46.9 230.8,43.9" fill="url(#g00_6)" filter="url(#bl00_1p2)"/><polygon points="259.5,18.0 261.4,18.3 263.2,18.6 265.1,18.9 266.9,19.1 268.8,19.3 270.6,19.6 272.5,19.8 274.4,20.0 276.2,20.2 278.1,20.5 279.9,20.7 281.8,21.1 283.6,21.5 285.5,21.8 281.6,64.8 281.2,67.5 280.0,69.9 278.1,71.8 275.7,73.0 273.0,73.4 270.3,73.0 267.9,71.8 266.0,69.9 264.8,67.5 264.4,64.8" fill="url(#g00_7)" filter="url(#bl00_2p2)"/><polygon points="287.5,22.2 289.4,22.6 291.2,23.0 293.1,23.3 295.0,23.8 296.8,24.3 298.7,24.8 300.6,25.4 302.4,25.9 304.3,26.4 306.2,26.9 308.0,27.4 309.9,28.2 311.8,29.0 313.6,29.9 315.5,30.7 300.2,80.9 299.8,83.9 298.4,86.6 296.2,88.8 293.5,90.2 290.5,90.6 287.5,90.2 284.8,88.8 282.6,86.6 281.2,83.9 280.8,80.9" fill="url(#g00_8)" filter="url(#bl00_1p8)"/><polygon points="317.5,31.6 319.4,32.5 321.3,33.3 323.2,34.4 325.2,35.6 327.1,36.7 329.0,37.9 330.9,39.0 332.8,40.2 334.8,41.3 336.7,42.5 338.6,43.5 340.5,44.6 325.8,92.1 325.3,94.7 324.2,97.0 322.3,98.8 320.0,100.0 317.5,100.4 315.0,100.0 312.7,98.8 310.8,97.0 309.7,94.7 309.2,92.1" fill="url(#g00_9)" filter="url(#bl00_2p2)"/><polygon points="339.5,44.1 341.4,45.1 343.2,46.1 345.1,47.2 346.9,48.2 348.8,49.3 350.6,50.6 352.5,51.9 354.4,53.2 356.2,54.6 358.1,55.9 359.9,57.2 361.8,58.6 363.6,59.9 365.5,61.2 355.1,106.5 354.6,109.6 353.2,112.4 351.0,114.7 348.1,116.1 345.0,116.6 341.9,116.1 339.0,114.7 336.8,112.4 335.4,109.6 334.9,106.5" fill="url(#g00_10)" filter="url(#bl00_2p2)"/></g></g>
</g>
<rect x="128.0" y="13.0" width="233.0" height="145.0" fill="none" stroke="#222" stroke-width="1.4"/>
<text x="251.5" y="146.0" font-family="Liberation Sans, sans-serif" font-weight="bold" font-size="27" text-anchor="middle" fill="#000">pH 3 - 1 hour</text>
<g clip-path="url(#clip01)"><rect x="369.3" y="12.8" width="220.1" height="145.4" fill="#ddd" filter="url(#noise)"/>
<g clip-path="url(#arch01)"><polygon points="344.3,70.4 346.3,68.9 348.3,67.5 350.3,66.0 352.3,64.5 354.3,63.1 356.3,61.6 358.3,60.1 360.3,58.7 362.3,57.2 364.3,55.7 366.3,54.3 368.3,52.8 370.3,51.4 372.3,49.9 374.3,48.4 376.3,46.8 378.3,44.8 380.3,42.9 382.3,41.4 384.3,39.9 386.3,38.4 388.3,36.9 390.3,35.4 392.3,34.3 394.3,33.3 396.3,32.3 398.3,31.3 400.3,30.3 402.3,29.3 404.3,28.3 406.3,27.3 408.3,26.2 410.3,25.2 412.3,24.2 414.3,23.5 416.3,22.9 418.3,22.2 420.3,21.6 422.3,21.0 424.3,20.4 426.3,20.1 428.3,19.8 430.3,19.4 432.3,19.1 434.3,18.7 436.3,18.4 438.3,18.1 440.3,17.9 442.3,17.7 444.3,17.4 446.3,17.2 448.3,17.1 450.3,16.8 452.3,16.6 454.3,16.4 456.3,16.1 458.3,15.9 460.3,15.7 462.3,15.4 464.3,15.3 466.3,15.2 468.3,15.1 470.3,15.0 472.3,14.8 474.3,14.7 476.3,14.6 478.3,14.9 480.3,15.2 482.3,15.5 484.3,15.8 486.3,16.2 488.3,16.7 490.3,17.1 492.3,17.5 494.3,18.0 496.3,18.4 498.3,18.9 500.3,19.2 502.3,19.6 504.3,19.9 506.3,20.3 508.3,20.7 510.3,21.0 512.3,21.4 514.3,21.9 516.3,22.4 518.3,22.9 520.3,23.4 522.3,23.9 524.3,24.4 526.3,24.9 528.3,25.8 530.3,26.6 532.3,27.5 534.3,28.4 536.3,29.3 538.3,30.2 540.3,31.0 542.3,31.7 544.3,32.5 546.3,33.2 548.3,33.9 550.3,34.6 552.3,35.4 554.3,36.1 556.3,37.2 558.3,38.4 560.3,39.6 562.3,40.8 564.3,42.0 566.3,43.2 568.3,44.4 570.3,45.6 572.3,46.9 574.3,48.2 576.3,49.5 578.3,50.8 580.3,52.1 582.3,53.4 584.3,54.8 586.3,56.2 588.3,57.5 590.3,58.9 592.3,60.3 594.3,61.6 596.3,63.0 598.3,64.3 600.3,65.7 602.3,67.1 604.3,68.4 606.3,69.8 608.3,71.2 610.3,72.5 612.3,73.9 614.3,75.3 614.3,109.3 612.3,107.9 610.3,106.5 608.3,105.2 606.3,103.8 604.3,102.4 602.3,101.1 600.3,99.7 598.3,98.3 596.3,97.0 594.3,95.6 592.3,94.3 590.3,92.9 588.3,91.5 586.3,90.2 584.3,88.8 582.3,87.4 580.3,86.1 578.3,84.8 576.3,83.5 574.3,82.2 572.3,80.9 570.3,79.6 568.3,78.4 566.3,77.2 564.3,76.0 562.3,74.8 560.3,73.6 558.3,72.4 556.3,71.2 554.3,70.1 552.3,69.4 550.3,68.6 548.3,67.9 546.3,67.2 544.3,66.5 542.3,65.7 540.3,65.0 538.3,64.2 536.3,63.3 534.3,62.4 532.3,61.5 530.3,60.6 528.3,59.8 526.3,58.9 524.3,58.4 522.3,57.9 520.3,57.4 518.3,56.9 516.3,56.4 514.3,55.9 512.3,55.4 510.3,55.0 508.3,54.7 506.3,54.3 504.3,53.9 502.3,53.6 500.3,53.2 498.3,52.9 496.3,52.4 494.3,52.0 492.3,51.5 490.3,51.1 488.3,50.7 486.3,50.2 484.3,49.8 482.3,49.5 480.3,49.2 478.3,48.9 476.3,48.6 474.3,48.7 472.3,48.8 470.3,49.0 468.3,49.1 466.3,49.2 464.3,49.3 462.3,49.4 460.3,49.7 458.3,49.9 456.3,50.1 454.3,50.4 452.3,50.6 450.3,50.8 448.3,51.0 446.3,51.2 444.3,51.5 442.3,51.7 440.3,51.9 438.3,52.0 436.3,52.4 434.3,52.7 432.3,53.1 430.3,53.4 428.3,53.8 426.3,54.1 424.3,54.4 422.3,55.0 420.3,55.6 418.3,56.2 416.3,56.9 414.3,57.5 412.3,58.2 410.3,59.2 408.3,60.2 406.3,61.3 404.3,62.3 402.3,63.3 400.3,64.3 398.3,65.3 396.3,66.3 394.3,67.3 392.3,68.3 390.3,69.4 388.3,70.9 386.3,72.4 384.3,73.9 382.3,75.4 380.3,76.9 378.3,78.8 376.3,80.8 374.3,82.4 372.3,83.9 370.3,85.4 368.3,86.8 366.3,88.3 364.3,89.7 362.3,91.2 360.3,92.7 358.3,94.1 356.3,95.6 354.3,97.1 352.3,98.5 350.3,100.0 348.3,101.5 346.3,102.9 344.3,104.4" fill="#e2dfdf" fill-opacity="0.4" filter="url(#pale01)"/><g filter="url(#rough01)"><polygon points="368.0,55.0 376.0,50.0 380.0,62.0 384.0,80.0 382.0,90.0 376.0,95.0 368.0,96.0" fill="#3b4cc0" filter="url(#bl01_1p0)"/><polygon points="368.0,58.0 371.5,59.0 373.0,68.0 372.0,78.0 368.0,80.0" fill="#b40426" filter="url(#bl01_0p7)"/><polygon points="378.0,46.1 379.9,44.2 381.8,42.8 383.7,41.3 385.6,39.9 387.5,38.5 389.4,37.0 391.3,35.7 393.2,34.8 395.2,33.8 397.1,32.9 399.0,31.9 400.9,31.0 402.8,30.1 404.7,29.1 406.6,28.1 408.5,27.1 410.4,82.4 409.9,85.3 408.6,87.9 406.5,90.0 403.9,91.3 401.0,91.8 398.1,91.3 395.5,90.0 393.4,87.9 392.1,85.3 391.6,82.4" fill="url(#g01_2)" filter="url(#bl01_1p0)"/><polygon points="410.5,26.1 412.5,25.1 414.4,24.4 416.4,23.8 418.3,23.2 420.3,22.6 422.2,22.0 424.2,21.5 426.1,21.1 428.1,20.8 430.0,20.5 432.0,20.1 433.9,19.8 435.9,19.4 437.8,19.1 439.8,18.9 441.7,18.7 443.7,18.5 445.6,18.3 447.6,18.1 449.5,17.9 451.5,17.7 445.1,72.2 444.6,75.3 443.2,78.2 441.0,80.4 438.1,81.8 435.0,82.3 431.9,81.8 429.0,80.4 426.8,78.2 425.4,75.3 424.9,72.2" fill="url(#g01_3)" filter="url(#bl01_1p0)"/><polygon points="454.0,17.4 455.9,17.2 457.8,17.0 459.7,16.7 461.6,16.5 463.5,16.3 465.4,16.2 467.3,16.1 469.2,16.0 471.1,15.9 473.0,15.8 475.0,15.7 476.9,15.7 478.8,16.0 480.7,16.2 482.6,16.5 484.5,16.8 486.4,17.2 488.3,17.7 490.2,18.1 492.1,18.5 494.0,18.9 487.1,63.0 486.5,67.1 484.6,70.7 481.7,73.6 478.1,75.5 474.0,76.2 469.9,75.5 466.3,73.6 463.4,70.7 461.5,67.1 460.9,63.0" fill="url(#g01_4)" filter="url(#bl01_1p0)"/><polygon points="495.5,19.2 497.4,19.7 499.4,20.1 501.4,20.4 503.3,20.8 505.2,21.1 507.2,21.5 509.1,21.8 511.1,22.2 513.0,22.5 515.0,23.0 517.0,23.5 518.9,24.0 520.9,24.5 522.8,25.0 524.8,25.5 526.7,26.0 528.6,26.9 530.6,27.8 532.5,28.6 534.5,29.5 523.5,65.5 522.9,69.2 521.2,72.6 518.6,75.2 515.2,76.9 511.5,77.5 507.8,76.9 504.4,75.2 501.8,72.6 500.1,69.2 499.5,65.5" fill="url(#g01_5)" filter="url(#bl01_1p6)"/><polygon points="533.5,29.1 535.5,29.9 537.4,30.8 539.4,31.7 541.3,32.4 543.2,33.1 545.2,33.8 547.1,34.5 549.1,35.2 551.0,35.9 553.0,36.6 555.0,37.4 556.9,38.6 558.9,39.7 560.8,40.9 562.8,42.1 564.7,43.2 566.6,44.4 568.6,45.5 570.5,46.8 572.5,48.1 561.1,81.4 560.6,84.6 559.2,87.4 557.0,89.6 554.1,91.1 551.0,91.6 547.9,91.1 545.0,89.6 542.8,87.4 541.4,84.6 540.9,81.4" fill="url(#g01_6)" filter="url(#bl01_2p2)"/><polygon points="571.5,47.4 573.3,48.6 575.2,49.8 577.0,51.0 578.8,52.2 580.7,53.4 582.5,54.6 584.3,55.8 586.2,57.1 588.0,58.3 589.8,59.6 591.7,60.8 593.5,62.1 587.8,100.6 587.2,104.0 585.6,107.2 583.1,109.7 580.0,111.3 576.5,111.8 573.0,111.3 569.9,109.7 567.4,107.2 565.8,104.0 565.2,100.6" fill="url(#g01_7)" filter="url(#bl01_2p4)"/></g></g>
</g>
<rect x="369.3" y="12.8" width="220.1" height="145.4" fill="none" stroke="#222" stroke-width="1.4"/>
<text x="486.4" y="146.2" font-family="Liberation Sans, sans-serif" font-weight="bold" font-size="27" text-anchor="middle" fill="#000">pH 4 - 1 hour</text>
<g clip-path="url(#clip02)"><rect x="596.5" y="12.7" width="220.1" height="145.5" fill="#ddd" filter="url(#noise)"/>
<g clip-path="url(#arch02)"><polygon points="571.5,130.3 573.5,126.3 575.5,122.2 577.5,118.2 579.5,114.1 581.5,110.1 583.5,106.1 585.5,102.0 587.5,98.0 589.5,94.0 591.5,89.9 593.5,85.9 595.5,81.9 597.5,77.8 599.5,73.8 601.5,69.7 603.5,65.7 605.5,63.2 607.5,61.4 609.5,59.6 611.5,57.9 613.5,56.1 615.5,54.4 617.5,52.7 619.5,51.3 621.5,49.9 623.5,48.5 625.5,47.0 627.5,45.6 629.5,44.2 631.5,42.9 633.5,41.5 635.5,40.1 637.5,38.7 639.5,37.7 641.5,36.7 643.5,35.7 645.5,34.8 647.5,33.8 649.5,32.8 651.5,31.8 653.5,31.0 655.5,30.2 657.5,29.4 659.5,28.6 661.5,27.8 663.5,27.0 665.5,26.2 667.5,25.6 669.5,25.0 671.5,24.4 673.5,23.8 675.5,23.1 677.5,22.5 679.5,22.0 681.5,21.6 683.5,21.2 685.5,20.8 687.5,20.3 689.5,19.9 691.5,19.5 693.5,19.2 695.5,18.9 697.5,18.6 699.5,18.3 701.5,18.0 703.5,17.7 705.5,17.5 707.5,17.2 709.5,17.2 711.5,17.4 713.5,17.5 715.5,17.7 717.5,17.9 719.5,18.0 721.5,18.2 723.5,18.4 725.5,18.6 727.5,18.8 729.5,19.0 731.5,19.2 733.5,19.5 735.5,19.8 737.5,20.1 739.5,20.4 741.5,20.7 743.5,21.0 745.5,21.3 747.5,21.8 749.5,22.4 751.5,23.0 753.5,23.7 755.5,24.3 757.5,24.9 759.5,25.5 761.5,26.2 763.5,26.9 765.5,27.6 767.5,28.3 769.5,29.0 771.5,29.7 773.5,30.4 775.5,31.3 777.5,32.4 779.5,33.5 781.5,34.6 783.5,35.7 785.5,36.8 787.5,37.9 789.5,38.9 791.5,39.9 793.5,40.9 795.5,41.9 797.5,42.9 799.5,43.9 801.5,44.9 803.5,46.0 805.5,47.1 807.5,48.2 809.5,49.3 811.5,50.4 813.5,51.5 815.5,52.6 817.5,53.7 819.5,54.8 821.5,55.9 823.5,57.0 825.5,58.1 827.5,59.2 829.5,60.3 831.5,61.4 833.5,62.5 835.5,63.6 837.5,64.7 839.5,65.8 841.5,66.9 841.5,130.9 839.5,129.8 837.5,128.7 835.5,127.6 833.5,126.5 831.5,125.4 829.5,124.3 827.5,123.2 825.5,122.1 823.5,121.0 821.5,119.9 819.5,118.8 817.5,117.7 815.5,116.6 813.5,115.5 811.5,114.4 809.5,113.3 807.5,112.2 805.5,111.1 803.5,110.0 801.5,108.9 799.5,107.9 797.5,106.9 795.5,105.9 793.5,104.9 791.5,103.9 789.5,102.9 787.5,101.9 785.5,100.8 783.5,99.7 781.5,98.6 779.5,97.5 777.5,96.4 775.5,95.3 773.5,94.4 771.5,93.7 769.5,93.0 767.5,92.3 765.5,91.6 763.5,90.9 761.5,90.2 759.5,89.5 757.5,88.9 755.5,88.3 753.5,87.7 751.5,87.0 749.5,86.4 747.5,85.8 745.5,85.3 743.5,85.0 741.5,84.7 739.5,84.4 737.5,84.1 735.5,83.8 733.5,83.5 731.5,83.2 729.5,83.0 727.5,82.8 725.5,82.6 723.5,82.4 721.5,82.2 719.5,82.0 717.5,81.9 715.5,81.7 713.5,81.5 711.5,81.4 709.5,81.2 707.5,81.2 705.5,81.5 703.5,81.7 701.5,82.0 699.5,82.3 697.5,82.6 695.5,82.9 693.5,83.2 691.5,83.5 689.5,83.9 687.5,84.3 685.5,84.8 683.5,85.2 681.5,85.6 679.5,86.0 677.5,86.5 675.5,87.1 673.5,87.8 671.5,88.4 669.5,89.0 667.5,89.6 665.5,90.2 663.5,91.0 661.5,91.8 659.5,92.6 657.5,93.4 655.5,94.2 653.5,95.0 651.5,95.8 649.5,96.8 647.5,97.8 645.5,98.8 643.5,99.7 641.5,100.7 639.5,101.7 637.5,102.7 635.5,104.1 633.5,105.5 631.5,106.9 629.5,108.2 627.5,109.6 625.5,111.0 623.5,112.5 621.5,113.9 619.5,115.3 617.5,116.7 615.5,118.4 613.5,120.1 611.5,121.9 609.5,123.6 607.5,125.4 605.5,127.2 603.5,129.7 601.5,133.7 599.5,137.8 597.5,141.8 595.5,145.9 593.5,149.9 591.5,153.9 589.5,158.0 587.5,162.0 585.5,166.0 583.5,170.1 581.5,174.1 579.5,178.1 577.5,182.2 575.5,186.2 573.5,190.3 571.5,194.3" fill="#e2dfdf" fill-opacity="0.75" filter="url(#pale02)"/><g filter="url(#rough02)"><polygon points="596.0,84.0 601.0,86.0 607.0,98.0 606.0,110.0 604.0,118.0 598.0,119.0 596.0,118.0" fill="#3b4cc0" filter="url(#bl02_1p0)"/><polygon points="597.0,80.0 601.0,72.0 614.5,61.5 622.0,80.0 629.0,105.0 628.0,118.0 620.0,125.0 610.0,121.0 606.0,98.0 599.0,85.0" fill="url(#g02_1)" filter="url(#bl02_1p0)"/><polygon points="616.5,56.5 637.0,45.5 644.0,75.0 648.0,100.0 640.0,108.0 632.0,105.0 625.0,82.0" fill="url(#g02_2)" filter="url(#bl02_1p0)"/><polygon points="639.0,43.0 660.0,33.5 666.0,55.0 673.0,85.0 665.0,93.0 655.0,91.0 647.0,65.0" fill="url(#g02_3)" filter="url(#bl02_1p1)"/><polygon points="660.5,29.2 662.4,28.4 664.2,27.7 666.1,27.0 668.0,26.4 669.8,25.9 671.7,25.3 673.6,24.7 675.4,24.2 677.3,23.6 679.2,23.0 681.0,22.7 682.9,22.3 684.8,21.9 686.6,21.5 688.5,21.1 690.1,82.9 689.6,86.0 688.2,88.9 686.0,91.1 683.1,92.5 680.0,93.0 676.9,92.5 674.0,91.1 671.8,88.9 670.4,86.0 669.9,82.9" fill="url(#g02_4)" filter="url(#bl02_1p5)"/><polygon points="686.5,21.5 688.4,21.2 690.4,20.8 692.3,20.4 694.2,20.1 696.1,19.8 698.1,19.5 700.0,19.2 701.9,19.0 703.9,18.7 705.8,18.4 707.7,18.1 709.6,18.2 711.6,18.4 713.5,18.5 714.9,56.7 714.5,59.1 713.4,61.3 711.6,63.0 709.4,64.1 707.0,64.5 704.6,64.1 702.4,63.0 700.6,61.3 699.5,59.1 699.1,56.7" fill="url(#g02_5)" filter="url(#bl02_2p6)"/><polygon points="714.5,18.6 716.4,18.8 718.3,18.9 720.3,19.1 722.2,19.3 724.1,19.5 726.0,19.7 728.0,19.9 729.9,20.1 731.8,20.3 733.7,20.5 735.7,20.8 737.6,21.1 739.5,21.4 736.5,48.7 736.1,51.5 734.8,54.0 732.8,56.0 730.3,57.3 727.5,57.7 724.7,57.3 722.2,56.0 720.2,54.0 718.9,51.5 718.5,48.7" fill="url(#g02_6)" filter="url(#bl02_2p8)"/><polygon points="743.5,22.0 745.3,22.3 747.2,22.7 749.0,23.3 750.9,23.9 752.7,24.4 754.6,25.0 756.4,25.5 758.3,26.1 760.1,26.7 762.0,27.3 763.8,28.0 765.7,28.6 767.5,29.3 764.5,48.1 764.1,50.9 762.8,53.4 760.8,55.4 758.3,56.6 755.5,57.1 752.7,56.6 750.2,55.4 748.2,53.4 746.9,50.9 746.5,48.1" fill="url(#g02_7)" filter="url(#bl02_3p0)"/><polygon points="769.5,30.0 771.4,30.6 773.3,31.3 775.2,32.2 777.2,33.2 779.1,34.3 781.0,35.3 782.9,36.4 784.8,37.4 786.8,38.5 788.7,39.5 790.6,40.4 792.5,41.4 789.6,51.7 789.2,54.4 788.0,56.8 786.1,58.7 783.7,59.9 781.0,60.4 778.3,59.9 775.9,58.7 774.0,56.8 772.8,54.4 772.4,51.7" fill="url(#g02_8)" filter="url(#bl02_3p2)"/><polygon points="782.0,50.0 800.0,56.0 814.0,70.0 813.0,90.0 790.0,88.0" fill="#f6bda2" filter="url(#bl02_5p0)"/><polygon points="800.0,78.0 816.0,80.0 816.0,108.0 800.0,104.0" fill="#afcafc" filter="url(#bl02_5p0)"/></g></g>
</g>
<rect x="596.5" y="12.7" width="220.1" height="145.5" fill="none" stroke="#222" stroke-width="1.4"/>
<text x="713.5" y="146.2" font-family="Liberation Sans, sans-serif" font-weight="bold" font-size="27" text-anchor="middle" fill="#000">pH 5 - 1 hour</text>
<g clip-path="url(#clip10)"><rect x="128.2" y="166.5" width="234.0" height="145.8" fill="#ddd" filter="url(#noise)"/>
<g clip-path="url(#arch10)"><polygon points="103.2,304.5 105.2,299.9 107.2,295.3 109.2,290.7 111.2,286.1 113.2,281.5 115.2,276.9 117.2,272.4 119.2,267.8 121.2,263.2 123.2,258.6 125.2,254.0 127.2,249.4 129.2,244.8 131.2,240.2 133.2,235.6 135.2,231.9 137.2,228.5 139.2,225.1 141.2,221.7 143.2,218.3 145.2,215.6 147.2,213.3 149.2,210.9 151.2,208.6 153.2,206.3 155.2,204.2 157.2,202.0 159.2,199.8 161.2,198.1 163.2,196.7 165.2,195.3 167.2,194.0 169.2,192.6 171.2,191.2 173.2,190.0 175.2,188.9 177.2,187.8 179.2,186.6 181.2,185.5 183.2,184.4 185.2,183.4 187.2,182.4 189.2,181.4 191.2,180.5 193.2,179.6 195.2,178.7 197.2,177.8 199.2,177.0 201.2,176.2 203.2,175.7 205.2,175.1 207.2,174.6 209.2,174.0 211.2,173.5 213.2,172.9 215.2,172.5 217.2,172.2 219.2,171.9 221.2,171.5 223.2,171.2 225.2,170.9 227.2,170.5 229.2,170.2 231.2,169.9 233.2,169.6 235.2,169.3 237.2,168.9 239.2,168.6 241.2,168.3 243.2,168.0 245.2,167.7 247.2,167.8 249.2,167.9 251.2,168.0 253.2,168.1 255.2,168.2 257.2,168.4 259.2,168.6 261.2,168.8 263.2,169.0 265.2,169.2 267.2,169.4 269.2,169.6 271.2,169.8 273.2,170.2 275.2,170.6 277.2,171.0 279.2,171.4 281.2,171.8 283.2,172.2 285.2,172.6 287.2,173.1 289.2,173.7 291.2,174.3 293.2,174.9 295.2,175.5 297.2,176.2 299.2,176.8 301.2,177.4 303.2,178.0 305.2,178.6 307.2,179.2 309.2,179.8 311.2,180.4 313.2,181.0 315.2,181.6 317.2,182.3 319.2,183.3 321.2,184.3 323.2,185.3 325.2,186.3 327.2,187.3 329.2,188.3 331.2,189.3 333.2,190.5 335.2,191.7 337.2,192.9 339.2,194.1 341.2,195.3 343.2,196.5 345.2,197.7 347.2,199.0 349.2,200.3 351.2,201.6 353.2,203.0 355.2,204.3 357.2,205.6 359.2,206.9 361.2,208.3 363.2,209.6 365.2,210.9 367.2,212.3 369.2,213.6 371.2,214.9 373.2,216.2 375.2,217.6 377.2,218.9 379.2,220.2 381.2,221.5 383.2,222.9 385.2,224.2 387.2,225.5 387.2,259.5 385.2,258.2 383.2,256.9 381.2,255.5 379.2,254.2 377.2,252.9 375.2,251.6 373.2,250.2 371.2,248.9 369.2,247.6 367.2,246.3 365.2,244.9 363.2,243.6 361.2,242.3 359.2,240.9 357.2,239.6 355.2,238.3 353.2,237.0 351.2,235.6 349.2,234.3 347.2,233.0 345.2,231.7 343.2,230.5 341.2,229.3 339.2,228.1 337.2,226.9 335.2,225.7 333.2,224.5 331.2,223.3 329.2,222.3 327.2,221.3 325.2,220.3 323.2,219.3 321.2,218.3 319.2,217.3 317.2,216.3 315.2,215.6 313.2,215.0 311.2,214.4 309.2,213.8 307.2,213.2 305.2,212.6 303.2,212.0 301.2,211.4 299.2,210.8 297.2,210.2 295.2,209.5 293.2,208.9 291.2,208.3 289.2,207.7 287.2,207.1 285.2,206.6 283.2,206.2 281.2,205.8 279.2,205.4 277.2,205.0 275.2,204.6 273.2,204.2 271.2,203.8 269.2,203.6 267.2,203.4 265.2,203.2 263.2,203.0 261.2,202.8 259.2,202.6 257.2,202.4 255.2,202.2 253.2,202.1 251.2,202.0 249.2,201.9 247.2,201.8 245.2,201.7 243.2,202.0 241.2,202.3 239.2,202.6 237.2,202.9 235.2,203.3 233.2,203.6 231.2,203.9 229.2,204.2 227.2,204.5 225.2,204.9 223.2,205.2 221.2,205.5 219.2,205.9 217.2,206.2 215.2,206.5 213.2,206.9 211.2,207.5 209.2,208.0 207.2,208.6 205.2,209.1 203.2,209.7 201.2,210.2 199.2,211.0 197.2,211.8 195.2,212.7 193.2,213.6 191.2,214.5 189.2,215.4 187.2,216.4 185.2,217.4 183.2,218.4 181.2,219.5 179.2,220.6 177.2,221.8 175.2,222.9 173.2,224.0 171.2,225.2 169.2,226.6 167.2,228.0 165.2,229.3 163.2,230.7 161.2,232.1 159.2,233.8 157.2,236.0 155.2,238.2 153.2,240.3 151.2,242.6 149.2,244.9 147.2,247.3 145.2,249.6 143.2,252.3 141.2,255.7 139.2,259.1 137.2,262.5 135.2,265.9 133.2,269.6 131.2,274.2 129.2,278.8 127.2,283.4 125.2,288.0 123.2,292.6 121.2,297.2 119.2,301.8 117.2,306.4 115.2,310.9 113.2,315.5 111.2,320.1 109.2,324.7 107.2,329.3 105.2,333.9 103.2,338.5" fill="#e2dfdf" fill-opacity="0.4" filter="url(#pale10)"/><g filter="url(#rough10)"><polygon points="128.0,252.0 133.7,238.5 138.8,229.8 143.0,240.0 148.0,258.0 149.0,267.0 142.0,272.0 137.0,262.0 131.0,266.0 130.0,282.0 128.0,283.0" fill="#b40426" filter="url(#bl10_0p8)"/><polygon points="131.5,266.0 137.0,263.0 141.0,270.0 140.0,276.0 135.0,280.0 131.0,279.0" fill="#3b4cc0" filter="url(#bl10_0p9)"/><polygon points="140.0,224.8 141.8,221.7 143.6,218.6 145.4,216.3 147.2,214.2 149.1,212.1 150.9,210.0 152.7,207.9 154.5,205.9 170.6,253.1 170.2,255.8 169.0,258.2 167.1,260.1 164.7,261.4 162.0,261.8 159.3,261.4 156.9,260.1 155.0,258.2 153.8,255.8 153.4,253.1" fill="url(#g10_2)" filter="url(#bl10_1p0)"/><polygon points="157.0,203.2 159.0,201.0 160.9,199.3 162.9,197.9 164.9,196.6 166.8,195.2 168.8,193.9 170.8,192.5 172.7,191.3 174.7,190.2 176.6,189.1 178.6,188.0 180.6,186.8 182.5,185.7 184.5,184.7 190.8,230.4 190.3,232.9 189.2,235.2 187.3,237.0 185.0,238.2 182.5,238.6 180.0,238.2 177.7,237.0 175.8,235.2 174.7,232.9 174.2,230.4" fill="url(#g10_3)" filter="url(#bl10_1p0)"/><polygon points="186.0,184.0 188.0,183.0 189.9,182.0 191.9,181.1 193.9,180.3 195.9,179.4 197.8,178.6 199.8,177.7 201.8,177.1 203.7,176.5 205.7,176.0 207.7,175.4 209.6,174.9 211.6,174.3 213.6,173.8 215.6,173.5 217.5,173.1 219.5,172.8 219.6,211.5 219.1,214.3 217.9,216.7 215.9,218.7 213.5,219.9 210.8,220.3 208.0,219.9 205.6,218.7 203.6,216.7 202.4,214.3 201.9,211.5" fill="url(#g10_4)" filter="url(#bl10_1p0)"/><polygon points="225.0,171.9 226.9,171.6 228.9,171.3 230.8,170.9 232.8,170.6 234.7,170.3 236.7,170.0 238.6,169.7 240.6,169.4 242.5,169.1 244.4,168.8 246.4,168.8 248.3,168.9 250.3,169.0 252.2,169.1 254.2,169.1 256.1,169.3 258.1,169.5 260.0,169.7 254.5,201.4 253.9,205.1 252.2,208.5 249.6,211.1 246.2,212.8 242.5,213.4 238.8,212.8 235.4,211.1 232.8,208.5 231.1,205.1 230.5,201.4" fill="url(#g10_5)" filter="url(#bl10_1p1)"/><polygon points="261.5,169.8 263.4,170.0 265.3,170.2 267.2,170.4 269.1,170.6 271.0,170.8 272.9,171.2 274.8,171.5 276.7,171.9 278.6,172.3 280.4,172.7 282.3,173.0 284.2,173.4 286.1,173.8 288.0,174.4 289.9,174.9 291.8,175.5 293.7,176.1 295.6,176.7 297.5,177.2 288.1,208.5 287.6,211.6 286.2,214.5 284.0,216.7 281.1,218.1 278.0,218.6 274.9,218.1 272.0,216.7 269.8,214.5 268.4,211.6 267.9,208.5" fill="url(#g10_6)" filter="url(#bl10_1p4)"/><polygon points="297.0,177.1 299.0,177.7 300.9,178.3 302.9,178.9 304.9,179.5 306.9,180.1 308.8,180.7 310.8,181.2 312.8,181.8 314.8,182.4 316.7,183.1 318.7,184.1 320.7,185.1 322.6,186.1 324.6,187.1 326.6,188.0 328.6,189.0 330.5,190.0 332.5,191.1 322.4,223.7 321.9,226.6 320.6,229.2 318.5,231.3 315.9,232.6 313.0,233.1 310.1,232.6 307.5,231.3 305.4,229.2 304.1,226.6 303.6,223.7" fill="url(#g10_7)" filter="url(#bl10_1p4)"/><polygon points="331.5,190.5 333.3,191.6 335.2,192.7 337.0,193.8 338.9,194.9 340.7,196.1 342.6,197.2 344.4,198.3 346.3,199.4 348.1,200.6 350.0,201.8 351.8,203.0 353.7,204.3 355.5,205.5 345.4,252.5 344.8,256.3 343.0,259.8 340.3,262.5 336.8,264.3 333.0,264.9 329.2,264.3 325.7,262.5 323.0,259.8 321.2,256.3 320.6,252.5" fill="url(#g10_8)" filter="url(#bl10_1p8)"/><polygon points="353.0,208.0 363.0,212.0 363.0,266.0 356.0,262.0 352.0,240.0" fill="#bd1f2d" filter="url(#bl10_1p6)"/></g></g>
</g>
<rect x="128.2" y="166.5" width="234.0" height="145.8" fill="none" stroke="#222" stroke-width="1.4"/>
<text x="252.2" y="300.3" font-family="Liberation Sans, sans-serif" font-weight="bold" font-size="27" text-anchor="middle" fill="#000">pH 3 - 2 hour</text>
<g clip-path="url(#clip11)"><rect x="369.1" y="166.5" width="220.3" height="145.7" fill="#ddd" filter="url(#noise)"/>
<g clip-path="url(#arch11)"><polygon points="344.1,235.7 346.1,233.7 348.1,231.6 350.1,229.6 352.1,227.6 354.1,225.5 356.1,223.5 358.1,221.4 360.1,219.4 362.1,217.4 364.1,215.3 366.1,213.3 368.1,211.3 370.1,209.2 372.1,207.2 374.1,205.2 376.1,203.1 378.1,201.5 380.1,200.4 382.1,199.2 384.1,198.1 386.1,197.0 388.1,195.9 390.1,195.0 392.1,194.1 394.1,193.2 396.1,192.2 398.1,191.3 400.1,190.4 402.1,189.4 404.1,188.5 406.1,187.6 408.1,186.6 410.1,185.6 412.1,184.6 414.1,183.8 416.1,183.2 418.1,182.7 420.1,182.2 422.1,181.6 424.1,181.1 426.1,180.6 428.1,180.0 430.1,179.7 432.1,179.5 434.1,179.3 436.1,179.0 438.1,178.8 440.1,178.6 442.1,178.3 444.1,178.1 446.1,177.9 448.1,177.6 450.1,177.4 452.1,177.1 454.1,176.9 456.1,176.6 458.1,176.4 460.1,176.4 462.1,176.4 464.1,176.5 466.1,176.5 468.1,176.5 470.1,176.5 472.1,176.6 474.1,176.6 476.1,176.6 478.1,176.8 480.1,177.0 482.1,177.2 484.1,177.4 486.1,177.6 488.1,177.8 490.1,178.0 492.1,178.4 494.1,178.8 496.1,179.2 498.1,179.6 500.1,180.0 502.1,180.4 504.1,180.8 506.1,181.3 508.1,181.8 510.1,182.3 512.1,182.8 514.1,183.3 516.1,183.8 518.1,184.3 520.1,185.4 522.1,186.5 524.1,187.6 526.1,188.7 528.1,189.8 530.1,190.9 532.1,191.9 534.1,192.8 536.1,193.6 538.1,194.4 540.1,195.2 542.1,196.0 544.1,196.8 546.1,197.6 548.1,198.6 550.1,199.7 552.1,200.8 554.1,201.9 556.1,203.0 558.1,204.1 560.1,205.2 562.1,206.8 564.1,208.4 566.1,210.0 568.1,211.6 570.1,213.2 572.1,214.8 574.1,216.4 576.1,218.4 578.1,220.4 580.1,222.4 582.1,224.4 584.1,226.4 586.1,228.4 588.1,230.4 590.1,232.4 592.1,234.4 594.1,236.4 596.1,238.4 598.1,240.4 600.1,242.4 602.1,244.4 604.1,246.4 606.1,248.4 608.1,250.4 610.1,252.4 612.1,254.4 614.1,256.4 614.1,290.4 612.1,288.4 610.1,286.4 608.1,284.4 606.1,282.4 604.1,280.4 602.1,278.4 600.1,276.4 598.1,274.4 596.1,272.4 594.1,270.4 592.1,268.4 590.1,266.4 588.1,264.4 586.1,262.4 584.1,260.4 582.1,258.4 580.1,256.4 578.1,254.4 576.1,252.4 574.1,250.4 572.1,248.8 570.1,247.2 568.1,245.6 566.1,244.0 564.1,242.4 562.1,240.8 560.1,239.2 558.1,238.1 556.1,237.0 554.1,235.9 552.1,234.8 550.1,233.7 548.1,232.6 546.1,231.6 544.1,230.8 542.1,230.0 540.1,229.2 538.1,228.4 536.1,227.6 534.1,226.8 532.1,225.9 530.1,224.9 528.1,223.8 526.1,222.7 524.1,221.6 522.1,220.5 520.1,219.4 518.1,218.3 516.1,217.8 514.1,217.3 512.1,216.8 510.1,216.3 508.1,215.8 506.1,215.3 504.1,214.8 502.1,214.4 500.1,214.0 498.1,213.6 496.1,213.2 494.1,212.8 492.1,212.4 490.1,212.0 488.1,211.8 486.1,211.6 484.1,211.4 482.1,211.2 480.1,211.0 478.1,210.8 476.1,210.6 474.1,210.6 472.1,210.6 470.1,210.5 468.1,210.5 466.1,210.5 464.1,210.5 462.1,210.4 460.1,210.4 458.1,210.4 456.1,210.6 454.1,210.9 452.1,211.1 450.1,211.4 448.1,211.6 446.1,211.9 444.1,212.1 442.1,212.3 440.1,212.6 438.1,212.8 436.1,213.0 434.1,213.3 432.1,213.5 430.1,213.7 428.1,214.0 426.1,214.6 424.1,215.1 422.1,215.6 420.1,216.2 418.1,216.7 416.1,217.2 414.1,217.8 412.1,218.6 410.1,219.6 408.1,220.6 406.1,221.6 404.1,222.5 402.1,223.4 400.1,224.4 398.1,225.3 396.1,226.2 394.1,227.2 392.1,228.1 390.1,229.0 388.1,229.9 386.1,231.0 384.1,232.1 382.1,233.2 380.1,234.4 378.1,235.5 376.1,237.1 374.1,239.2 372.1,241.2 370.1,243.2 368.1,245.3 366.1,247.3 364.1,249.3 362.1,251.4 360.1,253.4 358.1,255.4 356.1,257.5 354.1,259.5 352.1,261.6 350.1,263.6 348.1,265.6 346.1,267.7 344.1,269.7" fill="#e2dfdf" fill-opacity="0.4" filter="url(#pale11)"/><g filter="url(#rough11)"><polygon points="368.0,214.0 374.0,213.0 378.0,228.0 379.0,245.0 375.0,258.0 368.0,260.0" fill="#96b7ff" filter="url(#bl11_2p0)"/><polygon points="368.0,212.0 371.5,213.0 372.5,235.0 372.0,258.0 368.0,259.0" fill="#3b4cc0" filter="url(#bl11_0p7)"/><polygon points="370.1,210.2 372.0,208.2 374.0,206.3 375.9,204.3 377.9,202.7 379.8,201.5 381.8,200.4 383.7,199.3 385.7,198.2 387.6,197.2 389.6,196.3 391.5,195.4 393.4,194.5 395.4,193.6 397.3,192.7 399.3,191.8 401.2,190.9 403.2,190.0 405.1,189.1 407.1,188.1 409.0,187.2 409.9,236.4 409.4,239.7 407.9,242.7 405.5,245.1 402.6,246.6 399.2,247.1 395.9,246.6 393.0,245.1 390.6,242.7 389.1,239.7 388.6,236.4" fill="url(#g11_2)" filter="url(#bl11_1p0)"/><polygon points="410.5,186.4 412.4,185.4 414.3,184.7 416.2,184.2 418.1,183.7 420.0,183.2 421.9,182.7 423.8,182.2 425.7,181.7 427.6,181.2 429.5,180.8 431.5,180.6 433.4,180.3 435.3,180.1 437.2,179.9 439.1,179.7 441.0,179.5 442.9,179.2 444.8,179.0 446.7,178.8 448.6,178.6 450.5,178.3 447.1,219.5 446.6,223.0 444.9,226.3 442.3,228.9 439.1,230.5 435.5,231.1 431.9,230.5 428.7,228.9 426.1,226.3 424.4,223.0 423.9,219.5" fill="url(#g11_3)" filter="url(#bl11_1p0)"/><polygon points="455.0,177.8 456.9,177.5 458.8,177.4 460.7,177.4 462.6,177.5 464.5,177.5 466.4,177.5 468.3,177.5 470.2,177.5 472.1,177.6 474.0,177.6 475.9,177.6 477.8,177.8 479.7,178.0 481.6,178.2 483.5,178.3 485.4,178.5 487.3,178.7 489.2,178.9 491.1,179.2 493.0,179.6 487.9,214.2 487.2,218.5 485.2,222.4 482.2,225.4 478.3,227.4 474.0,228.1 469.7,227.4 465.8,225.4 462.8,222.4 460.8,218.5 460.1,214.2" fill="url(#g11_4)" filter="url(#bl11_1p0)"/><polygon points="494.0,179.8 496.0,180.2 497.9,180.6 499.9,181.0 501.9,181.4 503.9,181.8 505.9,182.2 507.8,182.7 509.8,183.2 511.8,183.7 513.8,184.2 515.7,184.7 517.7,185.2 519.7,186.2 521.6,187.2 523.6,188.3 525.6,189.4 527.6,190.5 529.5,191.6 531.5,192.6 533.5,193.5 526.1,222.0 525.5,226.1 523.6,229.7 520.7,232.6 517.1,234.5 513.0,235.1 508.9,234.5 505.3,232.6 502.4,229.7 500.5,226.1 499.9,222.0" fill="url(#g11_5)" filter="url(#bl11_1p2)"/><polygon points="533.5,193.5 535.4,194.3 537.3,195.0 539.2,195.8 541.1,196.5 542.9,197.3 544.8,198.1 546.7,198.9 548.6,199.9 550.5,200.9 552.4,202.0 554.3,203.0 556.2,204.0 558.1,205.1 559.9,206.1 561.8,207.5 563.7,209.1 565.6,210.6 567.5,212.1 558.1,234.2 557.6,237.3 556.2,240.2 554.0,242.4 551.1,243.8 548.0,244.3 544.9,243.8 542.0,242.4 539.8,240.2 538.4,237.3 537.9,234.2" fill="url(#g11_6)" filter="url(#bl11_1p6)"/><polygon points="567.0,211.7 569.0,213.3 570.9,214.9 572.9,216.5 574.8,218.1 576.8,220.1 578.8,222.1 580.7,224.0 582.7,226.0 584.7,228.0 586.6,229.9 588.6,231.9 590.5,233.8 592.5,235.8 582.9,259.9 582.3,263.3 580.8,266.3 578.4,268.7 575.4,270.3 572.0,270.8 568.6,270.3 565.6,268.7 563.2,266.3 561.7,263.3 561.1,259.9" fill="url(#g11_7)" filter="url(#bl11_2p0)"/><polygon points="585.0,260.0 590.0,258.0 590.0,276.0 585.0,276.0" fill="#f4987a" filter="url(#bl11_2p0)"/></g></g>
</g>
<rect x="369.1" y="166.5" width="220.3" height="145.7" fill="none" stroke="#222" stroke-width="1.4"/>
<text x="486.2" y="300.2" font-family="Liberation Sans, sans-serif" font-weight="bold" font-size="27" text-anchor="middle" fill="#000">pH 4 - 2 hour</text>
<g clip-path="url(#clip12)"><rect x="596.1" y="166.5" width="220.9" height="145.9" fill="#ddd" filter="url(#noise)"/>
<g clip-path="url(#arch12)"><polygon points="571.1,290.5 573.1,286.4 575.1,282.3 577.1,278.2 579.1,274.2 581.1,270.1 583.1,266.0 585.1,261.9 587.1,257.8 589.1,253.7 591.1,249.6 593.1,245.5 595.1,241.4 597.1,237.3 599.1,233.2 601.1,229.1 603.1,225.4 605.1,223.4 607.1,221.5 609.1,219.3 611.1,216.9 613.1,214.5 615.1,212.1 617.1,209.9 619.1,207.6 621.1,205.4 623.1,203.1 625.1,200.9 627.1,199.0 629.1,197.9 631.1,196.8 633.1,195.6 635.1,194.5 637.1,193.4 639.1,192.3 641.1,191.4 643.1,190.5 645.1,189.6 647.1,188.8 649.1,187.9 651.1,187.0 653.1,186.2 655.1,185.5 657.1,184.7 659.1,184.0 661.1,183.3 663.1,182.5 665.1,181.6 667.1,180.7 669.1,179.8 671.1,178.8 673.1,177.9 675.1,177.0 677.1,176.2 679.1,175.8 681.1,175.2 683.1,174.8 685.1,174.2 687.1,173.8 689.1,173.2 691.1,172.9 693.1,172.7 695.1,172.5 697.1,172.4 699.1,172.2 701.1,172.1 703.1,171.9 705.1,171.7 707.1,171.6 709.1,171.6 711.1,171.6 713.1,171.7 715.1,171.8 717.1,171.9 719.1,172.0 721.1,172.1 723.1,172.2 725.1,172.3 727.1,172.7 729.1,173.0 731.1,173.3 733.1,173.7 735.1,174.0 737.1,174.4 739.1,174.7 741.1,175.0 743.1,175.4 745.1,175.7 747.1,176.1 749.1,176.5 751.1,176.9 753.1,177.3 755.1,177.7 757.1,178.1 759.1,178.5 761.1,178.9 763.1,179.3 765.1,179.7 767.1,180.1 769.1,180.9 771.1,181.7 773.1,182.4 775.1,183.2 777.1,184.0 779.1,184.8 781.1,185.6 783.1,186.4 785.1,187.2 787.1,188.0 789.1,188.9 791.1,190.0 793.1,191.1 795.1,192.1 797.1,193.2 799.1,194.3 801.1,195.3 803.1,196.4 805.1,197.5 807.1,198.5 809.1,199.6 811.1,200.8 813.1,202.0 815.1,203.3 817.1,204.5 819.1,205.7 821.1,206.9 823.1,208.2 825.1,209.4 827.1,210.6 829.1,211.9 831.1,213.1 833.1,214.3 835.1,215.5 837.1,216.8 839.1,218.0 841.1,219.2 841.1,283.2 839.1,282.0 837.1,280.8 835.1,279.5 833.1,278.3 831.1,277.1 829.1,275.9 827.1,274.6 825.1,273.4 823.1,272.2 821.1,270.9 819.1,269.7 817.1,268.5 815.1,267.3 813.1,266.0 811.1,264.8 809.1,263.6 807.1,262.5 805.1,261.5 803.1,260.4 801.1,259.3 799.1,258.3 797.1,257.2 795.1,256.1 793.1,255.1 791.1,254.0 789.1,252.9 787.1,252.0 785.1,251.2 783.1,250.4 781.1,249.6 779.1,248.8 777.1,248.0 775.1,247.2 773.1,246.4 771.1,245.7 769.1,244.9 767.1,244.1 765.1,243.7 763.1,243.3 761.1,242.9 759.1,242.5 757.1,242.1 755.1,241.7 753.1,241.3 751.1,240.9 749.1,240.5 747.1,240.1 745.1,239.7 743.1,239.4 741.1,239.0 739.1,238.7 737.1,238.4 735.1,238.0 733.1,237.7 731.1,237.3 729.1,237.0 727.1,236.7 725.1,236.3 723.1,236.2 721.1,236.1 719.1,236.0 717.1,235.9 715.1,235.8 713.1,235.7 711.1,235.6 709.1,235.6 707.1,235.6 705.1,235.7 703.1,235.9 701.1,236.1 699.1,236.2 697.1,236.4 695.1,236.5 693.1,236.7 691.1,236.9 689.1,237.2 687.1,237.8 685.1,238.2 683.1,238.8 681.1,239.2 679.1,239.8 677.1,240.2 675.1,241.0 673.1,241.9 671.1,242.8 669.1,243.8 667.1,244.7 665.1,245.6 663.1,246.5 661.1,247.3 659.1,248.0 657.1,248.7 655.1,249.5 653.1,250.2 651.1,251.0 649.1,251.9 647.1,252.8 645.1,253.6 643.1,254.5 641.1,255.4 639.1,256.3 637.1,257.4 635.1,258.5 633.1,259.6 631.1,260.8 629.1,261.9 627.1,263.0 625.1,264.9 623.1,267.1 621.1,269.4 619.1,271.6 617.1,273.9 615.1,276.1 613.1,278.5 611.1,280.9 609.1,283.3 607.1,285.5 605.1,287.4 603.1,289.4 601.1,293.1 599.1,297.2 597.1,301.3 595.1,305.4 593.1,309.5 591.1,313.6 589.1,317.7 587.1,321.8 585.1,325.9 583.1,330.0 581.1,334.1 579.1,338.2 577.1,342.2 575.1,346.3 573.1,350.4 571.1,354.5" fill="#e2dfdf" fill-opacity="0.8" filter="url(#pale12)"/><g filter="url(#rough12)"><polygon points="595.0,241.0 600.0,241.0 601.0,258.0 600.0,277.0 595.0,277.0" fill="#3b4cc0" filter="url(#bl12_1p0)"/><polygon points="597.0,236.0 601.0,229.0 608.3,224.5 614.0,238.0 619.0,254.0 618.0,270.0 615.0,281.0 607.0,285.0 602.0,275.0 599.0,255.0" fill="url(#g12_1)" filter="url(#bl12_1p0)"/><polygon points="611.1,220.1 626.4,209.0 634.0,230.0 641.7,260.5 625.0,271.6 620.0,250.0 614.0,232.0" fill="url(#g12_2)" filter="url(#bl12_1p0)"/><polygon points="626.4,203.4 644.0,195.5 654.0,220.0 666.0,250.0 660.0,263.0 650.0,262.0 638.0,228.0" fill="url(#g12_3)" filter="url(#bl12_1p5)"/><polygon points="645.5,190.5 647.4,189.6 649.2,188.8 651.1,188.0 652.9,187.3 654.8,186.6 656.6,185.9 658.5,185.2 660.4,184.5 662.2,183.8 664.1,183.0 665.9,182.2 667.8,181.3 669.6,180.5 671.5,179.7 682.1,243.9 681.6,247.1 680.2,249.9 678.0,252.1 675.1,253.6 672.0,254.1 668.9,253.6 666.0,252.1 663.8,249.9 662.4,247.1 661.9,243.9" fill="url(#g12_4)" filter="url(#bl12_2p0)"/><polygon points="672.0,179.4 674.0,178.5 675.9,177.7 677.9,177.1 679.9,176.6 681.8,176.1 683.8,175.6 685.8,175.1 687.7,174.6 689.7,174.1 691.7,173.8 693.6,173.6 695.6,173.5 697.6,173.3 699.5,173.2 701.5,173.0 703.4,226.9 702.9,229.8 701.6,232.4 699.5,234.5 696.9,235.8 694.0,236.3 691.1,235.8 688.5,234.5 686.4,232.4 685.1,229.8 684.6,226.9" fill="url(#g12_5)" filter="url(#bl12_2p6)"/><polygon points="700.5,173.1 702.4,172.9 704.3,172.8 706.2,172.6 708.2,172.5 710.1,172.6 712.0,172.7 713.9,172.8 715.8,172.9 717.8,173.0 719.7,173.0 721.6,173.1 723.5,173.2 722.5,199.5 722.1,202.3 720.8,204.8 718.8,206.8 716.3,208.1 713.5,208.5 710.7,208.1 708.2,206.8 706.2,204.8 704.9,202.3 704.5,199.5" fill="url(#g12_6)" filter="url(#bl12_3p0)"/><polygon points="724.5,173.3 726.4,173.5 728.3,173.9 730.2,174.2 732.2,174.5 734.1,174.8 736.0,175.2 737.9,175.5 739.8,175.8 741.8,176.2 743.7,176.5 745.6,176.8 747.5,177.2 744.6,192.9 744.2,195.5 743.0,197.9 741.1,199.9 738.7,201.1 736.0,201.5 733.3,201.1 730.9,199.9 729.0,197.9 727.8,195.5 727.4,192.9" fill="url(#g12_7)" filter="url(#bl12_3p0)"/><polygon points="748.5,177.4 750.3,177.7 752.2,178.1 754.0,178.5 755.9,178.8 757.7,179.2 759.6,179.6 761.4,180.0 763.3,180.3 765.1,180.7 767.0,181.1 768.8,181.7 770.7,182.5 772.5,183.2 769.5,203.1 769.1,205.9 767.8,208.4 765.8,210.4 763.3,211.7 760.5,212.1 757.7,211.7 755.2,210.4 753.2,208.4 751.9,205.9 751.5,203.1" fill="url(#g12_8)" filter="url(#bl12_3p5)"/><polygon points="767.0,188.0 790.0,193.0 802.0,215.0 800.0,234.0 775.0,230.0" fill="#f5c4ac" filter="url(#bl12_5p0)"/><polygon points="790.0,210.0 816.0,208.0 816.0,248.0 795.0,245.0" fill="#b9d0f9" filter="url(#bl12_5p0)"/></g></g>
</g>
<rect x="596.1" y="166.5" width="220.9" height="145.9" fill="none" stroke="#222" stroke-width="1.4"/>
<text x="713.5" y="300.4" font-family="Liberation Sans, sans-serif" font-weight="bold" font-size="27" text-anchor="middle" fill="#000">pH 5 - 2 hour</text>
<g clip-path="url(#clip20)"><rect x="128.2" y="322.0" width="233.3" height="154.4" fill="#ddd" filter="url(#noise)"/>
<g clip-path="url(#arch20)"><polygon points="103.2,405.9 105.2,403.7 107.2,401.4 109.2,399.1 111.2,396.9 113.2,394.6 115.2,392.3 117.2,390.0 119.2,387.8 121.2,385.5 123.2,383.2 125.2,381.0 127.2,378.7 129.2,376.4 131.2,374.2 133.2,371.9 135.2,369.6 137.2,367.4 139.2,365.1 141.2,363.4 143.2,362.0 145.2,360.6 147.2,359.1 149.2,357.7 151.2,356.4 153.2,355.3 155.2,354.2 157.2,353.1 159.2,352.0 161.2,350.9 163.2,349.8 165.2,348.6 167.2,347.5 169.2,346.3 171.2,345.2 173.2,344.0 175.2,343.1 177.2,342.3 179.2,341.5 181.2,340.7 183.2,340.0 185.2,339.2 187.2,338.4 189.2,338.0 191.2,337.6 193.2,337.2 195.2,336.8 197.2,336.4 199.2,336.0 201.2,335.7 203.2,335.3 205.2,334.9 207.2,334.5 209.2,334.1 211.2,333.6 213.2,333.2 215.2,332.8 217.2,332.5 219.2,332.4 221.2,332.3 223.2,332.2 225.2,332.1 227.2,332.0 229.2,331.9 231.2,331.8 233.2,331.8 235.2,331.8 237.2,331.8 239.2,331.8 241.2,331.8 243.2,331.8 245.2,331.8 247.2,332.1 249.2,332.3 251.2,332.6 253.2,332.8 255.2,333.1 257.2,333.5 259.2,333.9 261.2,334.3 263.2,334.7 265.2,335.1 267.2,335.4 269.2,335.8 271.2,336.3 273.2,336.9 275.2,337.5 277.2,338.1 279.2,338.7 281.2,339.3 283.2,339.9 285.2,340.5 287.2,341.4 289.2,342.4 291.2,343.4 293.2,344.4 295.2,345.4 297.2,346.4 299.2,347.4 301.2,348.4 303.2,349.3 305.2,350.2 307.2,351.1 309.2,352.0 311.2,352.9 313.2,353.8 315.2,354.7 317.2,355.8 319.2,357.2 321.2,358.6 323.2,360.1 325.2,361.5 327.2,362.9 329.2,364.3 331.2,365.7 333.2,367.4 335.2,369.2 337.2,371.0 339.2,372.8 341.2,374.6 343.2,376.4 345.2,378.2 347.2,380.0 349.2,382.3 351.2,384.5 353.2,386.7 355.2,388.9 357.2,391.1 359.2,393.4 361.2,395.6 363.2,397.8 365.2,400.0 367.2,402.2 369.2,404.5 371.2,406.7 373.2,408.9 375.2,411.1 377.2,413.3 379.2,415.5 381.2,417.8 383.2,420.0 385.2,422.2 385.2,456.2 383.2,454.0 381.2,451.8 379.2,449.5 377.2,447.3 375.2,445.1 373.2,442.9 371.2,440.7 369.2,438.5 367.2,436.2 365.2,434.0 363.2,431.8 361.2,429.6 359.2,427.4 357.2,425.1 355.2,422.9 353.2,420.7 351.2,418.5 349.2,416.3 347.2,414.0 345.2,412.2 343.2,410.4 341.2,408.6 339.2,406.8 337.2,405.0 335.2,403.2 333.2,401.4 331.2,399.7 329.2,398.3 327.2,396.9 325.2,395.5 323.2,394.1 321.2,392.6 319.2,391.2 317.2,389.8 315.2,388.7 313.2,387.8 311.2,386.9 309.2,386.0 307.2,385.1 305.2,384.2 303.2,383.3 301.2,382.4 299.2,381.4 297.2,380.4 295.2,379.4 293.2,378.4 291.2,377.4 289.2,376.4 287.2,375.4 285.2,374.5 283.2,373.9 281.2,373.3 279.2,372.7 277.2,372.1 275.2,371.5 273.2,370.9 271.2,370.3 269.2,369.8 267.2,369.4 265.2,369.1 263.2,368.7 261.2,368.3 259.2,367.9 257.2,367.5 255.2,367.1 253.2,366.8 251.2,366.6 249.2,366.3 247.2,366.1 245.2,365.8 243.2,365.8 241.2,365.8 239.2,365.8 237.2,365.8 235.2,365.8 233.2,365.8 231.2,365.8 229.2,365.9 227.2,366.0 225.2,366.1 223.2,366.2 221.2,366.3 219.2,366.4 217.2,366.5 215.2,366.8 213.2,367.2 211.2,367.6 209.2,368.1 207.2,368.5 205.2,368.9 203.2,369.3 201.2,369.7 199.2,370.0 197.2,370.4 195.2,370.8 193.2,371.2 191.2,371.6 189.2,372.0 187.2,372.4 185.2,373.2 183.2,374.0 181.2,374.7 179.2,375.5 177.2,376.3 175.2,377.1 173.2,378.0 171.2,379.2 169.2,380.3 167.2,381.5 165.2,382.6 163.2,383.8 161.2,384.9 159.2,386.0 157.2,387.1 155.2,388.2 153.2,389.3 151.2,390.4 149.2,391.7 147.2,393.1 145.2,394.6 143.2,396.0 141.2,397.4 139.2,399.1 137.2,401.4 135.2,403.6 133.2,405.9 131.2,408.2 129.2,410.4 127.2,412.7 125.2,415.0 123.2,417.2 121.2,419.5 119.2,421.8 117.2,424.0 115.2,426.3 113.2,428.6 111.2,430.9 109.2,433.1 107.2,435.4 105.2,437.7 103.2,439.9" fill="#e2dfdf" fill-opacity="0.4" filter="url(#pale20)"/><g filter="url(#rough20)"><polygon points="128.0,380.0 130.5,380.0 130.5,387.0 128.0,388.0" fill="#3b4cc0" filter="url(#bl20_0p6)"/><polygon points="128.0,383.0 140.0,368.0 150.0,361.0 163.5,353.6 167.0,353.0 170.0,375.0 172.0,400.0 168.0,412.0 155.0,415.0 143.0,412.0 138.0,398.0 132.0,388.0 128.0,389.0" fill="url(#g20_1)" filter="url(#bl20_1p0)"/><polygon points="128.0,390.0 132.0,389.0 137.0,398.0 139.5,410.0 135.0,420.0 128.0,421.0" fill="#3b4cc0" filter="url(#bl20_1p0)"/><polygon points="169.5,347.1 171.5,346.0 173.5,344.9 175.4,344.0 177.4,343.2 179.4,342.5 181.4,341.7 183.3,340.9 185.3,340.1 187.3,339.4 189.3,339.0 191.2,338.6 193.2,338.2 195.2,337.8 197.2,337.4 199.1,337.1 201.1,336.7 203.1,336.3 205.1,335.9 207.0,335.5 209.0,335.1 211.0,334.7 204.9,388.6 204.2,392.9 202.2,396.8 199.2,399.9 195.3,401.8 191.0,402.5 186.7,401.8 182.8,399.9 179.8,396.8 177.8,392.9 177.1,388.6" fill="url(#g20_3)" filter="url(#bl20_1p0)"/><polygon points="214.0,334.1 216.0,333.7 217.9,333.5 219.9,333.4 221.8,333.3 223.8,333.2 225.7,333.1 227.7,333.0 229.6,332.9 231.6,332.8 233.5,332.8 235.5,332.8 237.4,332.8 239.4,332.8 241.3,332.8 243.3,332.8 245.2,332.8 247.2,333.1 249.1,333.3 251.1,333.6 253.0,333.8 255.0,334.1 248.8,376.7 248.1,381.1 246.0,385.0 242.9,388.2 238.9,390.2 234.5,390.9 230.1,390.2 226.1,388.2 223.0,385.0 220.9,381.1 220.2,376.7" fill="url(#g20_4)" filter="url(#bl20_1p0)"/><polygon points="255.5,334.1 257.4,334.5 259.3,334.9 261.2,335.3 263.2,335.6 265.1,336.0 267.0,336.4 268.9,336.8 270.8,337.2 272.7,337.8 274.6,338.3 276.5,338.9 278.5,339.5 280.4,340.1 282.3,340.6 284.2,341.2 286.1,341.9 288.0,342.8 289.9,343.8 291.8,344.7 293.8,345.7 295.7,346.6 297.6,347.6 299.5,348.6 288.5,386.0 287.9,389.7 286.2,393.0 283.6,395.7 280.2,397.4 276.5,398.0 272.8,397.4 269.4,395.7 266.8,393.0 265.1,389.7 264.5,386.0" fill="url(#g20_5)" filter="url(#bl20_1p3)"/><polygon points="299.5,348.6 301.5,349.5 303.4,350.4 305.4,351.3 307.4,352.2 309.4,353.1 311.3,354.0 313.3,354.8 315.3,355.7 317.2,356.9 319.2,358.2 321.2,359.6 323.1,361.0 325.1,362.4 327.1,363.8 329.1,365.2 331.0,366.6 333.0,368.2 324.1,404.9 323.6,408.0 322.2,410.8 320.0,413.0 317.1,414.5 314.0,415.0 310.9,414.5 308.0,413.0 305.8,410.8 304.4,408.0 303.9,404.9" fill="url(#g20_6)" filter="url(#bl20_2p0)"/><polygon points="333.0,368.2 335.0,370.0 336.9,371.8 338.9,373.5 340.8,375.3 342.8,377.0 344.8,378.8 346.7,380.5 348.7,382.7 350.6,384.8 352.6,387.0 354.5,389.2 356.5,391.4 349.2,426.0 348.8,429.1 347.4,431.8 345.2,433.9 342.5,435.3 339.5,435.8 336.5,435.3 333.8,433.9 331.6,431.8 330.2,429.1 329.8,426.0" fill="url(#g20_7)" filter="url(#bl20_2p0)"/><polygon points="353.0,400.0 362.0,398.0 362.0,450.0 355.0,445.0 352.0,425.0" fill="#cf453c" filter="url(#bl20_2p0)"/></g></g>
</g>
<rect x="128.2" y="322.0" width="233.3" height="154.4" fill="none" stroke="#222" stroke-width="1.4"/>
<text x="251.8" y="464.4" font-family="Liberation Sans, sans-serif" font-weight="bold" font-size="27" text-anchor="middle" fill="#000">pH 3 - 8 hour</text>
<g clip-path="url(#clip21)"><rect x="369.0" y="322.5" width="221.8" height="152.7" fill="#ddd" filter="url(#noise)"/>
<g clip-path="url(#arch21)"><polygon points="344.0,392.2 346.0,390.2 348.0,388.2 350.0,386.2 352.0,384.2 354.0,382.2 356.0,380.2 358.0,378.2 360.0,376.2 362.0,374.2 364.0,372.2 366.0,370.2 368.0,368.2 370.0,366.2 372.0,364.2 374.0,362.2 376.0,360.2 378.0,358.2 380.0,356.4 382.0,355.1 384.0,353.8 386.0,352.5 388.0,351.2 390.0,349.9 392.0,348.6 394.0,347.6 396.0,346.8 398.0,346.0 400.0,345.1 402.0,344.3 404.0,343.5 406.0,342.7 408.0,341.9 410.0,341.0 412.0,340.2 414.0,339.4 416.0,338.5 418.0,337.9 420.0,337.2 422.0,336.6 424.0,335.9 426.0,335.3 428.0,334.7 430.0,334.0 432.0,333.4 434.0,333.0 436.0,332.7 438.0,332.5 440.0,332.2 442.0,331.9 444.0,331.7 446.0,331.4 448.0,331.1 450.0,330.9 452.0,330.8 454.0,330.7 456.0,330.6 458.0,330.5 460.0,330.4 462.0,330.3 464.0,330.3 466.0,330.2 468.0,330.2 470.0,330.2 472.0,330.1 474.0,330.1 476.0,330.1 478.0,330.0 480.0,330.0 482.0,330.3 484.0,330.6 486.0,330.8 488.0,331.1 490.0,331.4 492.0,331.8 494.0,332.2 496.0,332.6 498.0,333.1 500.0,333.5 502.0,333.9 504.0,334.4 506.0,334.8 508.0,335.2 510.0,335.6 512.0,336.0 514.0,336.4 516.0,336.8 518.0,337.2 520.0,337.6 522.0,338.3 524.0,339.1 526.0,339.9 528.0,340.7 530.0,341.5 532.0,342.3 534.0,343.1 536.0,344.0 538.0,345.0 540.0,346.0 542.0,347.0 544.0,348.0 546.0,349.0 548.0,350.0 550.0,351.0 552.0,352.4 554.0,353.8 556.0,355.2 558.0,356.6 560.0,358.0 562.0,359.4 564.0,360.8 566.0,362.6 568.0,364.6 570.0,366.6 572.0,368.5 574.0,370.5 576.0,372.5 578.0,374.5 580.0,376.5 582.0,378.5 584.0,380.6 586.0,382.6 588.0,384.6 590.0,386.6 592.0,388.6 594.0,390.6 596.0,392.7 598.0,394.7 600.0,396.7 602.0,398.7 604.0,400.7 606.0,402.7 608.0,404.8 610.0,406.8 612.0,408.8 614.0,410.8 614.0,444.8 612.0,442.8 610.0,440.8 608.0,438.8 606.0,436.7 604.0,434.7 602.0,432.7 600.0,430.7 598.0,428.7 596.0,426.7 594.0,424.6 592.0,422.6 590.0,420.6 588.0,418.6 586.0,416.6 584.0,414.6 582.0,412.5 580.0,410.5 578.0,408.5 576.0,406.5 574.0,404.5 572.0,402.5 570.0,400.6 568.0,398.6 566.0,396.6 564.0,394.8 562.0,393.4 560.0,392.0 558.0,390.6 556.0,389.2 554.0,387.8 552.0,386.4 550.0,385.0 548.0,384.0 546.0,383.0 544.0,382.0 542.0,381.0 540.0,380.0 538.0,379.0 536.0,378.0 534.0,377.1 532.0,376.3 530.0,375.5 528.0,374.7 526.0,373.9 524.0,373.1 522.0,372.3 520.0,371.6 518.0,371.2 516.0,370.8 514.0,370.4 512.0,370.0 510.0,369.6 508.0,369.2 506.0,368.8 504.0,368.4 502.0,367.9 500.0,367.5 498.0,367.1 496.0,366.6 494.0,366.2 492.0,365.8 490.0,365.4 488.0,365.1 486.0,364.8 484.0,364.6 482.0,364.3 480.0,364.0 478.0,364.0 476.0,364.1 474.0,364.1 472.0,364.1 470.0,364.2 468.0,364.2 466.0,364.2 464.0,364.3 462.0,364.3 460.0,364.4 458.0,364.5 456.0,364.6 454.0,364.7 452.0,364.8 450.0,364.9 448.0,365.1 446.0,365.4 444.0,365.7 442.0,365.9 440.0,366.2 438.0,366.5 436.0,366.7 434.0,367.0 432.0,367.4 430.0,368.0 428.0,368.7 426.0,369.3 424.0,369.9 422.0,370.6 420.0,371.2 418.0,371.9 416.0,372.5 414.0,373.4 412.0,374.2 410.0,375.0 408.0,375.9 406.0,376.7 404.0,377.5 402.0,378.3 400.0,379.1 398.0,380.0 396.0,380.8 394.0,381.6 392.0,382.6 390.0,383.9 388.0,385.2 386.0,386.5 384.0,387.8 382.0,389.1 380.0,390.4 378.0,392.2 376.0,394.2 374.0,396.2 372.0,398.2 370.0,400.2 368.0,402.2 366.0,404.2 364.0,406.2 362.0,408.2 360.0,410.2 358.0,412.2 356.0,414.2 354.0,416.2 352.0,418.2 350.0,420.2 348.0,422.2 346.0,424.2 344.0,426.2" fill="#e2dfdf" fill-opacity="0.4" filter="url(#pale21)"/><g filter="url(#rough21)"><polygon points="368.0,372.0 374.0,366.0 380.0,362.0 384.0,380.0 383.0,400.0 376.0,407.0 368.0,408.0" fill="#3b4cc0" filter="url(#bl21_1p0)"/><polygon points="368.0,377.0 371.5,378.0 372.0,390.0 371.5,397.0 368.0,398.0" fill="#b40426" filter="url(#bl21_0p7)"/><polygon points="378.0,359.2 379.9,357.5 381.8,356.3 383.7,355.0 385.6,353.8 387.4,352.6 389.3,351.3 391.2,350.1 393.1,348.9 395.0,348.2 396.9,347.4 398.8,346.6 400.7,345.9 402.6,345.1 404.4,344.3 406.3,343.6 408.2,342.8 410.1,342.0 412.0,341.2 412.8,389.0 412.2,392.5 410.6,395.6 408.1,398.1 405.0,399.7 401.5,400.3 398.0,399.7 394.9,398.1 392.4,395.6 390.8,392.5 390.2,389.0" fill="url(#g21_2)" filter="url(#bl21_1p0)"/><polygon points="413.5,340.6 415.5,339.7 417.5,339.0 419.4,338.4 421.4,337.8 423.4,337.1 425.4,336.5 427.3,335.9 429.3,335.2 431.3,334.6 433.3,334.1 435.2,333.8 437.2,333.6 439.2,333.3 441.2,333.0 443.1,332.8 445.1,332.5 447.1,332.2 449.1,332.0 451.0,331.9 453.0,331.8 455.0,331.7 449.4,377.3 448.8,381.1 447.0,384.5 444.3,387.3 440.8,389.0 437.0,389.6 433.2,389.0 429.7,387.3 427.0,384.5 425.2,381.1 424.6,377.3" fill="url(#g21_3)" filter="url(#bl21_1p0)"/><polygon points="459.0,331.5 460.9,331.4 462.8,331.3 464.7,331.3 466.6,331.2 468.5,331.2 470.4,331.2 472.3,331.1 474.2,331.1 476.1,331.1 478.0,331.0 479.9,331.0 481.8,331.2 483.7,331.5 485.6,331.8 487.5,332.0 489.4,332.3 491.3,332.6 493.2,333.0 495.1,333.4 497.0,333.8 491.9,372.8 491.2,377.0 489.2,380.9 486.2,384.0 482.3,386.0 478.0,386.6 473.7,386.0 469.8,384.0 466.8,380.9 464.8,377.0 464.1,372.8" fill="url(#g21_4)" filter="url(#bl21_1p0)"/><polygon points="499.5,334.4 501.4,334.8 503.3,335.2 505.2,335.6 507.1,336.0 509.0,336.4 510.9,336.8 512.8,337.2 514.7,337.6 516.6,337.9 518.5,338.3 520.5,338.7 522.4,339.5 524.3,340.2 526.2,341.0 528.1,341.8 530.0,342.5 531.9,343.3 533.8,344.0 535.7,344.8 537.6,345.8 539.5,346.8 530.4,381.2 529.8,385.0 528.0,388.5 525.3,391.2 521.8,393.0 518.0,393.6 514.2,393.0 510.7,391.2 508.0,388.5 506.2,385.0 505.6,381.2" fill="url(#g21_5)" filter="url(#bl21_1p3)"/><polygon points="539.5,346.8 541.5,347.7 543.4,348.7 545.4,349.7 547.4,350.7 549.4,351.7 551.3,352.9 553.3,354.3 555.3,355.7 557.2,357.1 559.2,358.5 561.2,359.9 563.2,361.3 565.1,362.7 567.1,364.7 569.1,366.6 571.1,368.6 573.0,370.6 575.0,372.5 566.1,403.6 565.6,406.8 564.2,409.6 562.0,411.8 559.1,413.3 556.0,413.7 552.9,413.3 550.0,411.8 547.8,409.6 546.4,406.8 545.9,403.6" fill="url(#g21_6)" filter="url(#bl21_1p8)"/><polygon points="575.0,372.5 577.0,374.5 578.9,376.4 580.9,378.4 582.8,380.4 584.8,382.3 586.7,384.3 588.6,386.3 590.6,388.2 592.5,390.2 594.5,392.2 591.2,423.4 590.8,426.4 589.4,429.1 587.2,431.3 584.5,432.6 581.5,433.1 578.5,432.6 575.8,431.3 573.6,429.1 572.2,426.4 571.8,423.4" fill="url(#g21_7)" filter="url(#bl21_2p2)"/></g></g>
</g>
<rect x="369.0" y="322.5" width="221.8" height="152.7" fill="none" stroke="#222" stroke-width="1.4"/>
<text x="486.9" y="463.2" font-family="Liberation Sans, sans-serif" font-weight="bold" font-size="27" text-anchor="middle" fill="#000">pH 4 - 8 hour</text>
<g clip-path="url(#clip22)"><rect x="597.6" y="322.5" width="219.2" height="151.7" fill="#ddd" filter="url(#noise)"/>
<g clip-path="url(#arch22)"><polygon points="572.6,407.9 574.6,405.4 576.6,402.9 578.6,400.4 580.6,397.9 582.6,395.4 584.6,392.9 586.6,390.4 588.6,387.9 590.6,385.3 592.6,382.8 594.6,380.3 596.6,377.8 598.6,375.3 600.6,372.8 602.6,370.3 604.6,367.8 606.6,365.3 608.6,363.3 610.6,361.7 612.6,360.1 614.6,358.5 616.6,356.8 618.6,355.2 620.6,353.5 622.6,351.8 624.6,350.5 626.6,349.5 628.6,348.5 630.6,347.6 632.6,346.6 634.6,345.6 636.6,344.4 638.6,343.2 640.6,342.1 642.6,340.9 644.6,339.8 646.6,338.9 648.6,338.0 650.6,337.2 652.6,336.3 654.6,335.4 656.6,334.6 658.6,334.2 660.6,333.8 662.6,333.4 664.6,333.1 666.6,332.7 668.6,332.3 670.6,331.9 672.6,331.6 674.6,331.3 676.6,331.0 678.6,330.7 680.6,330.4 682.6,330.1 684.6,329.8 686.6,329.6 688.6,329.4 690.6,329.3 692.6,329.1 694.6,329.0 696.6,328.9 698.6,328.8 700.6,328.8 702.6,328.8 704.6,328.8 706.6,328.8 708.6,328.8 710.6,329.0 712.6,329.5 714.6,330.0 716.6,330.5 718.6,331.0 720.6,331.4 722.6,331.9 724.6,332.4 726.6,332.9 728.6,333.4 730.6,333.9 732.6,334.4 734.6,335.1 736.6,335.9 738.6,336.7 740.6,337.5 742.6,338.3 744.6,339.2 746.6,340.0 748.6,340.8 750.6,341.8 752.6,342.8 754.6,343.8 756.6,344.8 758.6,345.8 760.6,346.8 762.6,347.8 764.6,348.9 766.6,350.1 768.6,351.3 770.6,352.6 772.6,353.8 774.6,355.0 776.6,356.2 778.6,357.5 780.6,359.1 782.6,360.7 784.6,362.3 786.6,363.9 788.6,365.5 790.6,367.0 792.6,368.6 794.6,370.6 796.6,372.6 798.6,374.6 800.6,376.6 802.6,378.6 804.6,380.6 806.6,382.6 808.6,384.6 810.6,386.6 812.6,388.6 814.6,390.6 816.6,392.6 818.6,394.6 820.6,396.6 822.6,398.6 824.6,400.6 826.6,402.6 828.6,404.6 830.6,406.6 832.6,408.6 834.6,410.6 836.6,412.6 838.6,414.6 840.6,416.6 840.6,480.6 838.6,478.6 836.6,476.6 834.6,474.6 832.6,472.6 830.6,470.6 828.6,468.6 826.6,466.6 824.6,464.6 822.6,462.6 820.6,460.6 818.6,458.6 816.6,456.6 814.6,454.6 812.6,452.6 810.6,450.6 808.6,448.6 806.6,446.6 804.6,444.6 802.6,442.6 800.6,440.6 798.6,438.6 796.6,436.6 794.6,434.6 792.6,432.6 790.6,431.0 788.6,429.5 786.6,427.9 784.6,426.3 782.6,424.7 780.6,423.1 778.6,421.5 776.6,420.2 774.6,419.0 772.6,417.8 770.6,416.6 768.6,415.3 766.6,414.1 764.6,412.9 762.6,411.8 760.6,410.8 758.6,409.8 756.6,408.8 754.6,407.8 752.6,406.8 750.6,405.8 748.6,404.8 746.6,404.0 744.6,403.2 742.6,402.3 740.6,401.5 738.6,400.7 736.6,399.9 734.6,399.1 732.6,398.4 730.6,397.9 728.6,397.4 726.6,396.9 724.6,396.4 722.6,395.9 720.6,395.4 718.6,395.0 716.6,394.5 714.6,394.0 712.6,393.5 710.6,393.0 708.6,392.8 706.6,392.8 704.6,392.8 702.6,392.8 700.6,392.8 698.6,392.8 696.6,392.9 694.6,393.0 692.6,393.1 690.6,393.3 688.6,393.4 686.6,393.6 684.6,393.8 682.6,394.1 680.6,394.4 678.6,394.7 676.6,395.0 674.6,395.3 672.6,395.6 670.6,395.9 668.6,396.3 666.6,396.7 664.6,397.1 662.6,397.4 660.6,397.8 658.6,398.2 656.6,398.6 654.6,399.4 652.6,400.3 650.6,401.2 648.6,402.0 646.6,402.9 644.6,403.8 642.6,404.9 640.6,406.1 638.6,407.2 636.6,408.4 634.6,409.6 632.6,410.6 630.6,411.6 628.6,412.5 626.6,413.5 624.6,414.5 622.6,415.8 620.6,417.5 618.6,419.2 616.6,420.8 614.6,422.5 612.6,424.1 610.6,425.7 608.6,427.3 606.6,429.3 604.6,431.8 602.6,434.3 600.6,436.8 598.6,439.3 596.6,441.8 594.6,444.3 592.6,446.8 590.6,449.3 588.6,451.9 586.6,454.4 584.6,456.9 582.6,459.4 580.6,461.9 578.6,464.4 576.6,466.9 574.6,469.4 572.6,471.9" fill="#e2dfdf" fill-opacity="0.8" filter="url(#pale22)"/><g filter="url(#rough22)"><polygon points="597.0,380.0 599.0,378.0 605.9,395.0 606.0,412.0 604.0,427.6 597.0,428.0" fill="#3b4cc0" filter="url(#bl22_1p0)"/><polygon points="597.0,432.0 600.7,433.0 600.7,445.0 597.0,446.0" fill="#b40426" filter="url(#bl22_0p8)"/><polygon points="598.5,380.0 601.4,375.8 607.3,368.4 616.2,363.9 622.0,380.0 629.0,405.0 628.0,420.0 618.0,428.0 610.0,426.0 606.0,405.0 602.0,390.0" fill="url(#g22_2)" filter="url(#bl22_1p0)"/><polygon points="620.0,358.5 640.0,350.5 650.0,378.0 660.0,405.0 652.0,415.0 640.0,414.0 630.0,395.0 624.0,373.0" fill="url(#g22_3)" filter="url(#bl22_1p0)"/><polygon points="642.9,344.7 668.1,337.3 676.0,370.0 682.9,395.0 665.0,398.0 652.0,370.0" fill="url(#g22_4)" filter="url(#bl22_1p6)"/><polygon points="674.0,332.4 675.9,332.1 677.7,331.8 679.6,331.5 681.5,331.3 683.3,331.0 685.2,330.7 687.1,330.5 688.9,330.4 690.8,330.3 692.7,330.1 694.5,330.0 696.4,329.9 698.3,329.8 700.1,329.8 702.0,329.8 697.0,365.8 696.6,368.1 695.6,370.2 693.9,371.8 691.8,372.9 689.5,373.3 687.2,372.9 685.1,371.8 683.4,370.2 682.4,368.1 682.0,365.8" fill="url(#g22_5)" filter="url(#bl22_2p2)"/><polygon points="705.5,329.8 707.4,329.8 709.3,329.8 711.2,330.1 713.1,330.6 715.0,331.0 716.9,331.5 718.8,332.0 720.6,332.5 722.5,332.9 724.4,333.4 726.3,333.9 728.2,334.4 730.1,334.8 732.0,335.3 728.2,365.6 727.8,368.6 726.4,371.3 724.2,373.5 721.5,374.8 718.5,375.3 715.5,374.8 712.8,373.5 710.6,371.3 709.2,368.6 708.8,365.6" fill="url(#g22_6)" filter="url(#bl22_2p5)"/><polygon points="735.0,336.3 736.8,337.0 738.7,337.8 740.5,338.5 742.4,339.3 744.2,340.0 746.1,340.8 747.9,341.5 749.8,342.4 751.6,343.3 753.5,344.2 755.3,345.2 757.2,346.1 759.0,347.0 755.5,361.9 755.1,364.6 753.8,367.2 751.8,369.1 749.3,370.4 746.5,370.9 743.7,370.4 741.2,369.1 739.2,367.2 737.9,364.6 737.5,361.9" fill="url(#g22_7)" filter="url(#bl22_3p0)"/><polygon points="760.0,355.0 786.0,362.0 787.0,405.0 765.0,405.0" fill="#f3c8b2" filter="url(#bl22_5p0)"/><polygon points="775.0,377.0 798.0,380.0 799.0,414.0 778.0,412.0" fill="#c3d5f4" filter="url(#bl22_5p0)"/><polygon points="787.0,392.0 814.0,396.0 814.0,436.0 790.0,434.0" fill="#f2cbb7" filter="url(#bl22_5p0)"/></g></g>
</g>
<rect x="597.6" y="322.5" width="219.2" height="151.7" fill="none" stroke="#222" stroke-width="1.4"/>
<text x="714.2" y="462.2" font-family="Liberation Sans, sans-serif" font-weight="bold" font-size="27" text-anchor="middle" fill="#000">pH 5 - 8 hour</text>
<line x1="123.5" y1="13.0" x2="128.0" y2="13.0" stroke="#222" stroke-width="1.3"/>
<text x="116.5" y="21.6" font-family="Liberation Sans, sans-serif" font-size="22.8" text-anchor="end">0.0</text>
<line x1="123.5" y1="51.6" x2="128.0" y2="51.6" stroke="#222" stroke-width="1.3"/>
<text x="116.5" y="60.2" font-family="Liberation Sans, sans-serif" font-size="22.8" text-anchor="end">0.5</text>
<line x1="123.5" y1="90.2" x2="128.0" y2="90.2" stroke="#222" stroke-width="1.3"/>
<text x="116.5" y="98.8" font-family="Liberation Sans, sans-serif" font-size="22.8" text-anchor="end">1.0</text>
<line x1="123.5" y1="128.8" x2="128.0" y2="128.8" stroke="#222" stroke-width="1.3"/>
<text x="116.5" y="137.4" font-family="Liberation Sans, sans-serif" font-size="22.8" text-anchor="end">1.5</text>
<text transform="translate(69.5,79.9) rotate(-90)" font-family="Liberation Sans, sans-serif" font-size="27" text-anchor="middle">Depth (mm)</text>
<line x1="123.69999999999999" y1="166.5" x2="128.2" y2="166.5" stroke="#222" stroke-width="1.3"/>
<text x="116.7" y="175.1" font-family="Liberation Sans, sans-serif" font-size="22.8" text-anchor="end">0.0</text>
<line x1="123.69999999999999" y1="205.2" x2="128.2" y2="205.2" stroke="#222" stroke-width="1.3"/>
<text x="116.7" y="213.8" font-family="Liberation Sans, sans-serif" font-size="22.8" text-anchor="end">0.5</text>
<line x1="123.69999999999999" y1="243.9" x2="128.2" y2="243.9" stroke="#222" stroke-width="1.3"/>
<text x="116.7" y="252.5" font-family="Liberation Sans, sans-serif" font-size="22.8" text-anchor="end">1.0</text>
<line x1="123.69999999999999" y1="282.6" x2="128.2" y2="282.6" stroke="#222" stroke-width="1.3"/>
<text x="116.7" y="291.2" font-family="Liberation Sans, sans-serif" font-size="22.8" text-anchor="end">1.5</text>
<text transform="translate(69.5,240.1) rotate(-90)" font-family="Liberation Sans, sans-serif" font-size="27" text-anchor="middle">Depth (mm)</text>
<line x1="123.69999999999999" y1="322.0" x2="128.2" y2="322.0" stroke="#222" stroke-width="1.3"/>
<text x="116.7" y="330.6" font-family="Liberation Sans, sans-serif" font-size="22.8" text-anchor="end">0.0</text>
<line x1="123.69999999999999" y1="362.8" x2="128.2" y2="362.8" stroke="#222" stroke-width="1.3"/>
<text x="116.7" y="371.4" font-family="Liberation Sans, sans-serif" font-size="22.8" text-anchor="end">0.5</text>
<line x1="123.69999999999999" y1="403.6" x2="128.2" y2="403.6" stroke="#222" stroke-width="1.3"/>
<text x="116.7" y="412.2" font-family="Liberation Sans, sans-serif" font-size="22.8" text-anchor="end">1.0</text>
<line x1="123.69999999999999" y1="444.4" x2="128.2" y2="444.4" stroke="#222" stroke-width="1.3"/>
<text x="116.7" y="453.0" font-family="Liberation Sans, sans-serif" font-size="22.8" text-anchor="end">1.5</text>
<text transform="translate(69.5,399.4) rotate(-90)" font-family="Liberation Sans, sans-serif" font-size="27" text-anchor="middle">Depth (mm)</text>
<line x1="128.0" y1="476.4" x2="128.0" y2="481.4" stroke="#222" stroke-width="1.3"/>
<text transform="translate(128.0,504.3) scale(0.9,1)" font-family="Liberation Sans, sans-serif" font-size="24.3" text-anchor="middle">0</text>
<line x1="195.2" y1="476.4" x2="195.2" y2="481.4" stroke="#222" stroke-width="1.3"/>
<text transform="translate(195.2,504.3) scale(0.9,1)" font-family="Liberation Sans, sans-serif" font-size="24.3" text-anchor="middle">1</text>
<line x1="262.4" y1="476.4" x2="262.4" y2="481.4" stroke="#222" stroke-width="1.3"/>
<text transform="translate(262.4,504.3) scale(0.9,1)" font-family="Liberation Sans, sans-serif" font-size="24.3" text-anchor="middle">2</text>
<line x1="329.6" y1="476.4" x2="329.6" y2="481.4" stroke="#222" stroke-width="1.3"/>
<text transform="translate(329.6,504.3) scale(0.9,1)" font-family="Liberation Sans, sans-serif" font-size="24.3" text-anchor="middle">3</text>
<text x="244.3" y="528.8" font-family="Liberation Sans, sans-serif" font-size="27" text-anchor="middle">Distance (mm)</text>
<line x1="368.9" y1="475.2" x2="368.9" y2="480.2" stroke="#222" stroke-width="1.3"/>
<text transform="translate(368.9,503.1) scale(0.9,1)" font-family="Liberation Sans, sans-serif" font-size="24.3" text-anchor="middle">0</text>
<line x1="432.8" y1="475.2" x2="432.8" y2="480.2" stroke="#222" stroke-width="1.3"/>
<text transform="translate(432.8,503.1) scale(0.9,1)" font-family="Liberation Sans, sans-serif" font-size="24.3" text-anchor="middle">1</text>
<line x1="496.7" y1="475.2" x2="496.7" y2="480.2" stroke="#222" stroke-width="1.3"/>
<text transform="translate(496.7,503.1) scale(0.9,1)" font-family="Liberation Sans, sans-serif" font-size="24.3" text-anchor="middle">2</text>
<line x1="560.6" y1="475.2" x2="560.6" y2="480.2" stroke="#222" stroke-width="1.3"/>
<text transform="translate(560.6,503.1) scale(0.9,1)" font-family="Liberation Sans, sans-serif" font-size="24.3" text-anchor="middle">3</text>
<text x="478.0" y="528.8" font-family="Liberation Sans, sans-serif" font-size="27" text-anchor="middle">Distance (mm)</text>
<line x1="597.6" y1="474.2" x2="597.6" y2="479.2" stroke="#222" stroke-width="1.3"/>
<text transform="translate(597.6,502.1) scale(0.9,1)" font-family="Liberation Sans, sans-serif" font-size="24.3" text-anchor="middle">0</text>
<line x1="659.6" y1="474.2" x2="659.6" y2="479.2" stroke="#222" stroke-width="1.3"/>
<text transform="translate(659.6,502.1) scale(0.9,1)" font-family="Liberation Sans, sans-serif" font-size="24.3" text-anchor="middle">1</text>
<line x1="721.6" y1="474.2" x2="721.6" y2="479.2" stroke="#222" stroke-width="1.3"/>
<text transform="translate(721.6,502.1) scale(0.9,1)" font-family="Liberation Sans, sans-serif" font-size="24.3" text-anchor="middle">2</text>
<line x1="783.6" y1="474.2" x2="783.6" y2="479.2" stroke="#222" stroke-width="1.3"/>
<text transform="translate(783.6,502.1) scale(0.9,1)" font-family="Liberation Sans, sans-serif" font-size="24.3" text-anchor="middle">3</text>
<text x="700.8" y="528.8" font-family="Liberation Sans, sans-serif" font-size="27" text-anchor="middle">Distance (mm)</text>
<text x="5" y="38.6" font-family="Liberation Sans, sans-serif" font-weight="bold" font-size="42">A</text>
<rect x="595.8" y="551" width="167" height="8.4" fill="url(#cw)" stroke="#222" stroke-width="1.2"/>
<line x1="595.8" y1="559.4" x2="595.8" y2="564.5" stroke="#222" stroke-width="1.3"/>
<text x="595.8" y="591.5" font-family="Liberation Sans, sans-serif" font-size="23.5" text-anchor="middle">-1</text>
<line x1="679.3" y1="559.4" x2="679.3" y2="564.5" stroke="#222" stroke-width="1.3"/>
<text x="679.3" y="591.5" font-family="Liberation Sans, sans-serif" font-size="23.5" text-anchor="middle">0</text>
<line x1="762.8" y1="559.4" x2="762.8" y2="564.5" stroke="#222" stroke-width="1.3"/>
<text x="762.8" y="591.5" font-family="Liberation Sans, sans-serif" font-size="23.5" text-anchor="middle">1</text>
<text x="166" y="573.9" font-family="Liberation Sans, sans-serif" font-size="26.7">Normalized vertical displacement</text>
<text x="9.5" y="623.8" font-family="Liberation Sans, sans-serif" font-weight="bold" font-size="41.5">B</text>
<rect x="114.4" y="612.9" width="705.6" height="355.3" fill="none" stroke="#3a3a3a" stroke-width="1.5"/>
<text x="101" y="979.6" font-family="Liberation Sans, sans-serif" font-size="28.8" text-anchor="end">0</text>
<text x="101" y="890.3" font-family="Liberation Sans, sans-serif" font-size="28.8" text-anchor="end">25</text>
<text x="101" y="801.1" font-family="Liberation Sans, sans-serif" font-size="28.8" text-anchor="end">50</text>
<text x="101" y="711.9" font-family="Liberation Sans, sans-serif" font-size="28.8" text-anchor="end">75</text>
<text x="101" y="622.7" font-family="Liberation Sans, sans-serif" font-size="28.8" text-anchor="end">100</text>
<text transform="translate(40.2,791.3) rotate(-90)" font-family="Liberation Sans, sans-serif" font-size="29.3" text-anchor="middle">Young's Modulus (kPa)</text>
<text x="247.2" y="650.3" font-family="Liberation Sans, sans-serif" font-weight="bold" font-size="29.2" text-anchor="middle">pH 3</text>
<text x="468" y="650.3" font-family="Liberation Sans, sans-serif" font-weight="bold" font-size="29.2" text-anchor="middle">pH 4</text>
<text x="691.5" y="650.3" font-family="Liberation Sans, sans-serif" font-weight="bold" font-size="29.2" text-anchor="middle">pH 5</text>
<line x1="190.9" y1="814.0" x2="190.9" y2="818.3" stroke="#000" stroke-width="2.2"/>
<line x1="190.9" y1="833.2" x2="190.9" y2="843.6" stroke="#000" stroke-width="2.2"/>
<rect x="165.40" y="819.50" width="51.00" height="12.50" fill="#C8262D" stroke="#000" stroke-width="2.4" rx="0.6"/>
<line x1="165.2" y1="830.5" x2="216.6" y2="830.5" stroke="#000" stroke-width="4.4"/>
<circle cx="190.9" cy="813.6" r="3.8" fill="#262626" fill-opacity="0.76"/>
<circle cx="187" cy="819.4" r="3.8" fill="#262626" fill-opacity="0.76"/>
<circle cx="194.1" cy="831.6" r="3.8" fill="#262626" fill-opacity="0.76"/>
<circle cx="200.1" cy="844.1" r="3.8" fill="#262626" fill-opacity="0.76"/>
<circle cx="190" cy="828" r="3.8" fill="#262626" fill-opacity="0.76"/>
<line x1="246.0" y1="732.6" x2="246.0" y2="747.9" stroke="#000" stroke-width="2.2"/>
<line x1="246.0" y1="781.2" x2="246.0" y2="795.0" stroke="#000" stroke-width="2.2"/>
<rect x="220.60" y="749.10" width="51.30" height="30.90" fill="#0000A6" stroke="#000" stroke-width="2.4" rx="0.6"/>
<line x1="220.4" y1="771.3" x2="272.1" y2="771.3" stroke="#000" stroke-width="4.4"/>
<circle cx="236.9" cy="732.6" r="3.8" fill="#262626" fill-opacity="0.76"/>
<circle cx="254.1" cy="748.6" r="3.8" fill="#262626" fill-opacity="0.76"/>
<circle cx="242.9" cy="771.3" r="3.8" fill="#262626" fill-opacity="0.76"/>
<circle cx="239.5" cy="780" r="3.8" fill="#262626" fill-opacity="0.76"/>
<circle cx="241.5" cy="795.1" r="3.8" fill="#262626" fill-opacity="0.76"/>
<line x1="301.0" y1="728.6" x2="301.0" y2="748.4" stroke="#000" stroke-width="2.2"/>
<rect x="275.90" y="705.60" width="51.30" height="21.80" fill="#EFCA16" stroke="#000" stroke-width="2.4" rx="0.6"/>
<line x1="275.7" y1="725.7" x2="327.4" y2="725.7" stroke="#000" stroke-width="4.4"/>
<circle cx="311.8" cy="665.5" r="3.8" fill="#262626" fill-opacity="0.76"/>
<circle cx="305.5" cy="705.3" r="3.8" fill="#262626" fill-opacity="0.76"/>
<circle cx="301" cy="724.5" r="3.8" fill="#262626" fill-opacity="0.76"/>
<circle cx="298.4" cy="728.6" r="3.8" fill="#262626" fill-opacity="0.76"/>
<circle cx="306.4" cy="748.4" r="3.8" fill="#262626" fill-opacity="0.76"/>
<line x1="411.8" y1="692.5" x2="411.8" y2="696.0" stroke="#000" stroke-width="2.2"/>
<line x1="411.8" y1="717.7" x2="411.8" y2="731.0" stroke="#000" stroke-width="2.2"/>
<rect x="386.40" y="697.20" width="51.20" height="19.30" fill="#C8262D" stroke="#000" stroke-width="2.4" rx="0.6"/>
<line x1="386.2" y1="715.2" x2="437.8" y2="715.2" stroke="#000" stroke-width="4.4"/>
<circle cx="403.7" cy="696.6" r="3.8" fill="#262626" fill-opacity="0.76"/>
<circle cx="418.6" cy="692.3" r="3.8" fill="#262626" fill-opacity="0.76"/>
<circle cx="412.1" cy="714.6" r="3.8" fill="#262626" fill-opacity="0.76"/>
<circle cx="422.1" cy="717" r="3.8" fill="#262626" fill-opacity="0.76"/>
<circle cx="418.4" cy="731.5" r="3.8" fill="#262626" fill-opacity="0.76"/>
<line x1="467.0" y1="707.2" x2="467.0" y2="714.7" stroke="#000" stroke-width="2.2"/>
<line x1="467.0" y1="742.3" x2="467.0" y2="759.5" stroke="#000" stroke-width="2.2"/>
<rect x="441.70" y="715.90" width="51.00" height="25.20" fill="#0000A6" stroke="#000" stroke-width="2.4" rx="0.6"/>
<line x1="441.5" y1="728.7" x2="492.9" y2="728.7" stroke="#000" stroke-width="4.4"/>
<circle cx="471.6" cy="706.5" r="3.8" fill="#262626" fill-opacity="0.76"/>
<circle cx="472.6" cy="715.4" r="3.8" fill="#262626" fill-opacity="0.76"/>
<circle cx="463.9" cy="728.7" r="3.8" fill="#262626" fill-opacity="0.76"/>
<circle cx="471.5" cy="741.3" r="3.8" fill="#262626" fill-opacity="0.76"/>
<circle cx="458.6" cy="759.9" r="3.8" fill="#262626" fill-opacity="0.76"/>
<line x1="522.4" y1="661.1" x2="522.4" y2="683.2" stroke="#000" stroke-width="2.2"/>
<line x1="522.4" y1="719.9" x2="522.4" y2="737.8" stroke="#000" stroke-width="2.2"/>
<rect x="497.20" y="684.40" width="50.70" height="34.30" fill="#EFCA16" stroke="#000" stroke-width="2.4" rx="0.6"/>
<line x1="497.0" y1="710.5" x2="548.1" y2="710.5" stroke="#000" stroke-width="4.4"/>
<circle cx="532.6" cy="660.7" r="3.8" fill="#262626" fill-opacity="0.76"/>
<circle cx="532.3" cy="683.9" r="3.8" fill="#262626" fill-opacity="0.76"/>
<circle cx="513.2" cy="710.5" r="3.8" fill="#262626" fill-opacity="0.76"/>
<circle cx="526" cy="719" r="3.8" fill="#262626" fill-opacity="0.76"/>
<circle cx="524.7" cy="737.8" r="3.8" fill="#262626" fill-opacity="0.76"/>
<rect x="607.20" y="880.70" width="51.20" height="1.00" fill="#C8262D" stroke="#000" stroke-width="2.4" rx="0.6"/>
<line x1="607.0" y1="881.2" x2="658.6" y2="881.2" stroke="#000" stroke-width="4.4"/>
<circle cx="623" cy="867.4" r="3.8" fill="#262626" fill-opacity="0.76"/>
<circle cx="632" cy="881.2" r="3.8" fill="#262626" fill-opacity="0.76"/>
<circle cx="637.8" cy="882.1" r="3.8" fill="#262626" fill-opacity="0.76"/>
<circle cx="634" cy="880.5" r="3.8" fill="#262626" fill-opacity="0.76"/>
<circle cx="636" cy="881.5" r="3.8" fill="#262626" fill-opacity="0.76"/>
<line x1="688.1" y1="852.8" x2="688.1" y2="859.5" stroke="#000" stroke-width="2.2"/>
<line x1="688.1" y1="868.3" x2="688.1" y2="870.2" stroke="#000" stroke-width="2.2"/>
<rect x="662.50" y="860.70" width="50.90" height="6.40" fill="#0000A6" stroke="#000" stroke-width="2.4" rx="0.6"/>
<line x1="662.3" y1="865.4" x2="713.6" y2="865.4" stroke="#000" stroke-width="4.4"/>
<circle cx="685.8" cy="852.8" r="3.8" fill="#262626" fill-opacity="0.76"/>
<circle cx="689.4" cy="859" r="3.8" fill="#262626" fill-opacity="0.76"/>
<circle cx="683.1" cy="871.6" r="3.8" fill="#262626" fill-opacity="0.76"/>
<circle cx="679.2" cy="864.5" r="3.8" fill="#262626" fill-opacity="0.76"/>
<circle cx="686" cy="866" r="3.8" fill="#262626" fill-opacity="0.76"/>
<line x1="743.4" y1="860.2" x2="743.4" y2="865.0" stroke="#000" stroke-width="2.2"/>
<rect x="718.00" y="839.40" width="50.80" height="19.60" fill="#EFCA16" stroke="#000" stroke-width="2.4" rx="0.6"/>
<line x1="717.8" y1="845.0" x2="769.0" y2="845.0" stroke="#000" stroke-width="4.4"/>
<circle cx="747.8" cy="836.5" r="3.8" fill="#262626" fill-opacity="0.76"/>
<circle cx="753.1" cy="837.4" r="3.8" fill="#262626" fill-opacity="0.76"/>
<circle cx="741.5" cy="845" r="3.8" fill="#262626" fill-opacity="0.76"/>
<circle cx="748" cy="859.2" r="3.8" fill="#262626" fill-opacity="0.76"/>
<circle cx="736.6" cy="865.5" r="3.8" fill="#262626" fill-opacity="0.76"/>
<text x="152.6" y="999.3" font-family="Liberation Sans, sans-serif" font-size="29.5">n =</text>
<text x="174.1" y="1036.2" font-family="Liberation Sans, sans-serif" font-size="29.5" text-anchor="middle">5</text>
<text x="220.6" y="999.3" font-family="Liberation Sans, sans-serif" font-size="29.5">n =</text>
<text x="242.1" y="1036.2" font-family="Liberation Sans, sans-serif" font-size="29.5" text-anchor="middle">5</text>
<text x="288.5" y="999.3" font-family="Liberation Sans, sans-serif" font-size="29.5">n =</text>
<text x="310.0" y="1036.2" font-family="Liberation Sans, sans-serif" font-size="29.5" text-anchor="middle">5</text>
<text x="373.4" y="999.3" font-family="Liberation Sans, sans-serif" font-size="29.5">n =</text>
<text x="394.9" y="1036.2" font-family="Liberation Sans, sans-serif" font-size="29.5" text-anchor="middle">5</text>
<text x="441.9" y="999.3" font-family="Liberation Sans, sans-serif" font-size="29.5">n =</text>
<text x="463.4" y="1036.2" font-family="Liberation Sans, sans-serif" font-size="29.5" text-anchor="middle">5</text>
<text x="509.8" y="999.3" font-family="Liberation Sans, sans-serif" font-size="29.5">n =</text>
<text x="531.3" y="1036.2" font-family="Liberation Sans, sans-serif" font-size="29.5" text-anchor="middle">5</text>
<text x="597.2" y="999.3" font-family="Liberation Sans, sans-serif" font-size="29.5">n =</text>
<text x="618.7" y="1036.2" font-family="Liberation Sans, sans-serif" font-size="29.5" text-anchor="middle">5</text>
<text x="665.4" y="999.3" font-family="Liberation Sans, sans-serif" font-size="29.5">n =</text>
<text x="686.9" y="1036.2" font-family="Liberation Sans, sans-serif" font-size="29.5" text-anchor="middle">5</text>
<text x="733.8" y="999.3" font-family="Liberation Sans, sans-serif" font-size="29.5">n =</text>
<text x="755.3" y="1036.2" font-family="Liberation Sans, sans-serif" font-size="29.5" text-anchor="middle">5</text>
<rect x="234.8" y="1047.9" width="39" height="38.5" fill="#C8262D" stroke="#000" stroke-width="2.2"/>
<text x="289.8" y="1076.8" font-family="Liberation Sans, sans-serif" font-size="29.3">1 hour</text>
<rect x="386.5" y="1047.9" width="39" height="38.5" fill="#0000A6" stroke="#000" stroke-width="2.2"/>
<text x="439.0" y="1076.8" font-family="Liberation Sans, sans-serif" font-size="29.3">2 hours</text>
<rect x="553.1" y="1047.9" width="39" height="38.5" fill="#EFCA16" stroke="#000" stroke-width="2.2"/>
<text x="605.1" y="1076.8" font-family="Liberation Sans, sans-serif" font-size="29.3">8 hours</text>
</svg>
</body></html>
